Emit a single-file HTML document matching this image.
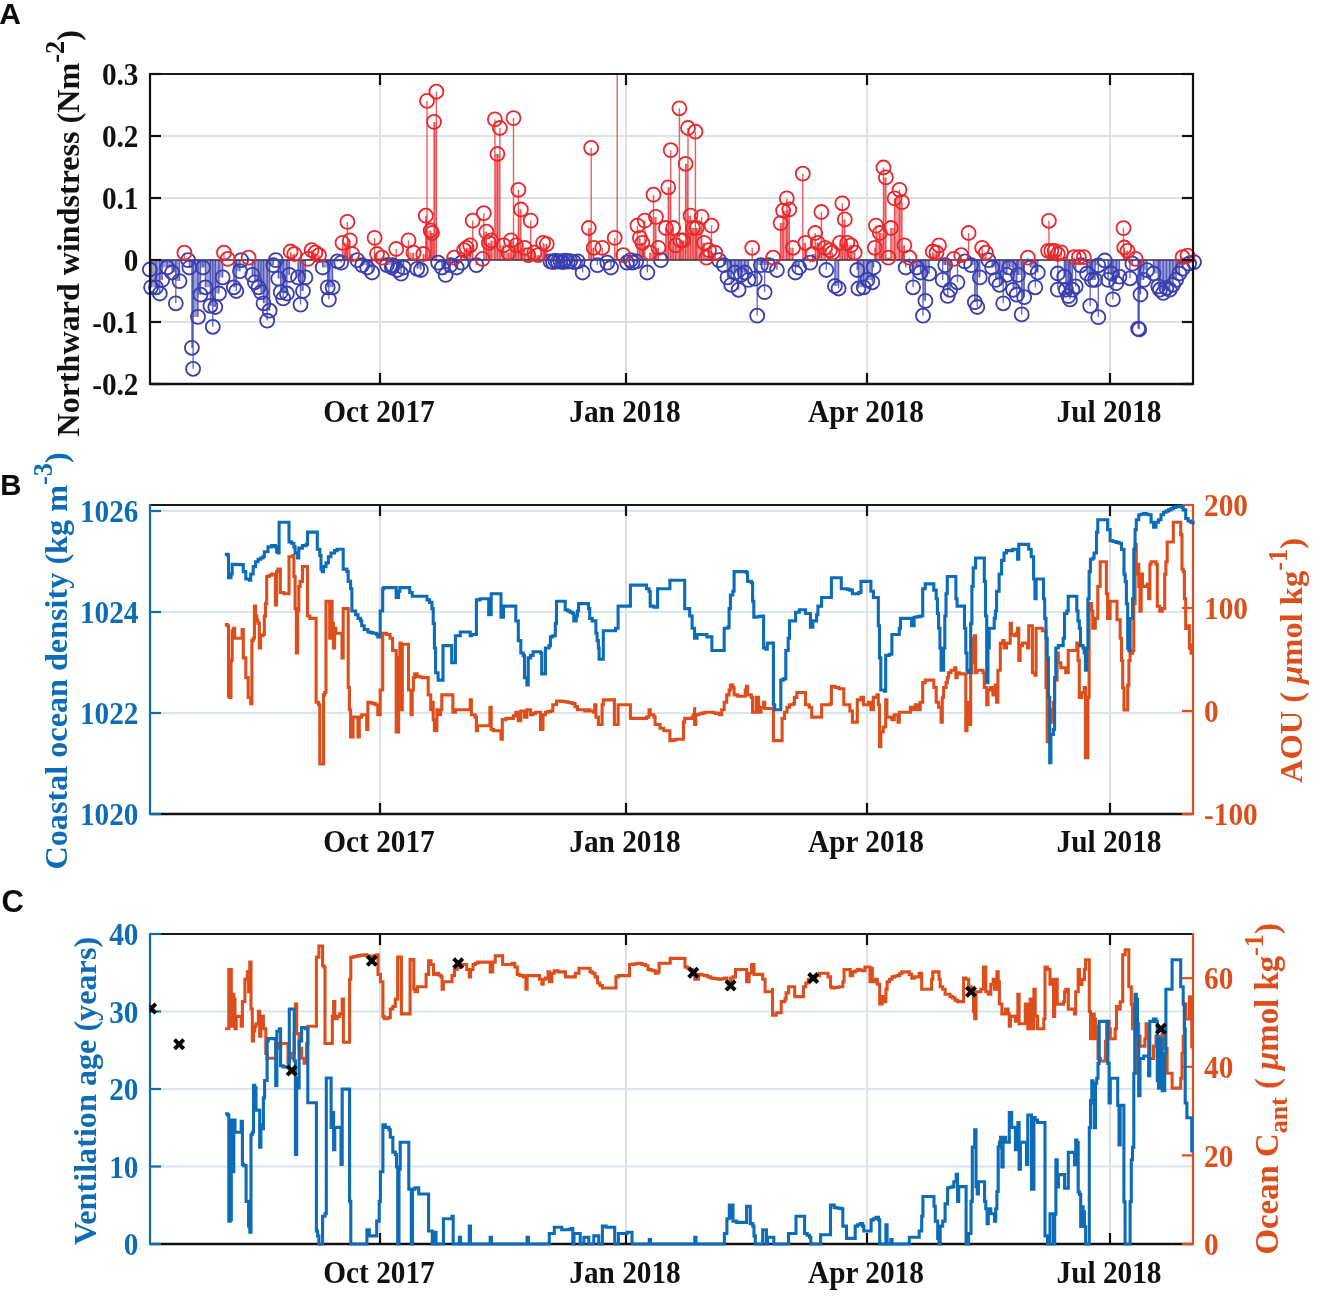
<!DOCTYPE html>
<html><head><meta charset="utf-8"><style>
html,body{margin:0;padding:0;background:#fff;}
svg{display:block;filter:blur(0.4px);}
</style></head><body>
<svg width="1330" height="1296" viewBox="0 0 1330 1296">
<defs><clipPath id="clipC"><rect x="149.5" y="934" width="1044" height="310"/></clipPath></defs>
<rect width="1330" height="1296" fill="#fff"/>
<line x1="380" y1="74" x2="380" y2="384" stroke="#dcdde0" stroke-width="1.8"/>
<line x1="626" y1="74" x2="626" y2="384" stroke="#dcdde0" stroke-width="1.8"/>
<line x1="867" y1="74" x2="867" y2="384" stroke="#dcdde0" stroke-width="1.8"/>
<line x1="1110" y1="74" x2="1110" y2="384" stroke="#dcdde0" stroke-width="1.8"/>
<line x1="150" y1="136.0" x2="1193" y2="136.0" stroke="#dfe0e3" stroke-width="1.8"/>
<line x1="150" y1="198.0" x2="1193" y2="198.0" stroke="#dfe0e3" stroke-width="1.8"/>
<line x1="150" y1="260" x2="1193" y2="260" stroke="#dfe0e3" stroke-width="1.8"/>
<line x1="150" y1="322.0" x2="1193" y2="322.0" stroke="#dfe0e3" stroke-width="1.8"/>
<path d="M149.9 260H151.1V269.5H149.9Z M151.1 260H156.0V287.3H151.1Z M156.0 260H159.8V287.3H156.0Z M159.8 260H162.2V279.9H159.8Z M162.2 260H167.2V267.5H162.2Z M167.2 260H172.1V267.5H167.2Z M172.1 260H175.8V272.5H172.1Z M175.8 260H179.5V281.1H175.8Z M189.4 260H191.9V267.5H189.4Z M191.9 260H193.1V347.8H191.9Z M193.1 260H198.0V316.9H193.1Z M198.0 260H200.5V294.7H198.0Z M200.5 260H203.0V267.5H200.5Z M203.0 260H205.4V267.5H203.0Z M205.4 260H210.4V287.3H205.4Z M210.4 260H212.8V305.8H210.4Z M212.8 260H215.3V307.0H212.8Z M215.3 260H219.0V293.5H215.3Z M219.0 260H222.7V277.4H219.0Z M233.8 260H236.3V287.3H233.8Z M236.3 260H240.0V271.2H236.3Z M252.3 260H254.8V274.9H252.3Z M254.8 260H258.5V282.3H254.8Z M258.5 260H261.0V287.3H258.5Z M261.0 260H263.5V292.2H261.0Z M263.5 260H267.2V303.3H263.5Z M267.2 260H269.6V310.7H267.2Z M269.6 260H273.3V265.1H269.6Z M278.3 260H280.7V278.6H278.3Z M280.7 260H283.2V292.2H280.7Z M283.2 260H286.9V293.5H283.2Z M286.9 260H289.4V274.9H286.9Z M298.0 260H300.5V277.4H298.0Z M300.5 260H303.0V291.0H300.5Z M303.0 260H305.4V277.4H303.0Z M322.7 260H327.7V267.5H322.7Z M327.7 260H328.9V287.3H327.7Z M328.9 260H332.6V287.3H328.9Z M332.6 260H337.5V261.4H332.6Z M337.5 260H341.2V261.4H337.5Z M362.2 260H367.2V265.1H362.2Z M367.2 260H372.1V267.5H367.2Z M386.9 260H391.9V265.1H386.9Z M391.9 260H392.5V265.1H391.9Z M397.4 260H401.1V270.0H397.4Z M401.1 260H403.6V267.5H401.1Z M417.2 260H420.9V268.8H417.2Z M438.1 260H441.9V262.6H438.1Z M441.9 260H445.6V267.5H441.9Z M445.6 260H450.5V265.1H445.6Z M456.7 260H461.6V262.6H456.7Z M550.5 260H553.0V261.4H550.5Z M553.0 260H555.4V260.6H553.0Z M555.4 260H557.9V260.6H555.4Z M557.9 260H560.4V261.1H557.9Z M560.4 260H562.8V261.1H560.4Z M562.8 260H565.3V260.6H562.8Z M565.3 260H567.8V260.6H565.3Z M567.8 260H570.2V261.1H567.8Z M570.2 260H574.0V261.1H570.2Z M574.0 260H577.7V261.4H574.0Z M577.7 260H582.6V261.4H577.7Z M607.3 260H611.0V262.6H607.3Z M632.5 260H636.2V261.4H632.5Z M723.8 260H727.5V265.1H723.8Z M727.5 260H731.2V277.4H727.5Z M731.2 260H734.9V272.5H731.2Z M734.9 260H738.6V272.5H734.9Z M738.6 260H741.1V274.9H738.6Z M741.1 260H744.8V272.5H741.1Z M744.8 260H748.5V272.5H744.8Z M754.7 260H757.2V278.6H754.7Z M757.2 260H760.9V265.1H757.2Z M760.9 260H764.6V265.1H760.9Z M764.6 260H768.3V265.1H764.6Z M795.4 260H799.1V267.5H795.4Z M834.9 260H838.6V286.0H834.9Z M857.2 260H858.4V270.0H857.2Z M858.4 260H863.7V287.3H858.4Z M863.7 260H867.4V279.9H863.7Z M867.4 260H872.3V279.9H867.4Z M872.3 260H873.6V267.5H872.3Z M913.1 260H916.8V267.5H913.1Z M916.8 260H920.5V267.5H916.8Z M920.5 260H923.0V272.5H920.5Z M923.0 260H925.4V300.9H923.0Z M925.4 260H929.1V273.7H925.4Z M942.7 260H945.2V265.1H942.7Z M945.2 260H947.7V265.1H945.2Z M947.7 260H950.1V289.8H947.7Z M971.1 260H974.8V265.1H971.1Z M974.8 260H977.3V302.1H974.8Z M977.3 260H979.8V277.4H977.3Z M992.1 260H995.8V267.5H992.1Z M995.8 260H999.5V279.9H995.8Z M999.5 260H1003.2V284.8H999.5Z M1003.2 260H1006.9V274.9H1003.2Z M1006.9 260H1009.4V267.5H1006.9Z M1009.4 260H1013.1V267.5H1009.4Z M1013.1 260H1016.8V289.8H1013.1Z M1016.8 260H1018.0V274.9H1016.8Z M1018.0 260H1021.7V274.9H1018.0Z M1021.7 260H1024.2V297.2H1021.7Z M1030.4 260H1035.3V267.5H1030.4Z M1035.3 260H1037.8V272.5H1035.3Z M1064.3 260H1065.9V276.7H1064.3Z M1065.9 260H1068.4V289.7H1065.9Z M1068.4 260H1070.0V296.1H1068.4Z M1070.0 260H1072.4V289.7H1070.0Z M1087.0 260H1090.2V273.5H1087.0Z M1090.2 260H1091.9V279.9H1090.2Z M1091.9 260H1095.1V279.9H1091.9Z M1095.1 260H1098.3V265.3H1095.1Z M1108.1 260H1111.3V273.5H1108.1Z M1111.3 260H1112.9V273.5H1111.3Z M1112.9 260H1116.2V283.2H1112.9Z M1116.2 260H1119.4V276.7H1116.2Z M1130.0 260H1132.4V263.7H1130.0Z M1138.1 260H1139.2V328.6H1138.1Z M1139.2 260H1140.5V294.5H1139.2Z M1140.5 260H1143.7V279.9H1140.5Z M1143.7 260H1147.0V270.2H1143.7Z M1153.5 260H1158.3V273.5H1153.5Z M1158.3 260H1159.9V286.4H1158.3Z M1159.9 260H1163.2V289.7H1159.9Z M1163.2 260H1166.4V288.0H1163.2Z M1166.4 260H1169.7V288.0H1166.4Z M1169.7 260H1172.9V284.8H1169.7Z M1172.9 260H1176.1V279.9H1172.9Z M1176.1 260H1179.4V273.5H1176.1Z M1189.1 260H1194.0V262.1H1189.1Z" fill="#3a3eaf" opacity="0.5"/><path d="M224.0 260H227.7V258.9H224.0Z M290.6 260H294.3V254.0H290.6Z M307.9 260H311.6V258.9H307.9Z M311.6 260H315.3V252.7H311.6Z M315.3 260H319.0V255.2H315.3Z M342.5 260H347.4V242.8H342.5Z M347.4 260H349.9V240.4H347.4Z M349.9 260H352.3V254.0H349.9Z M374.6 260H377.0V254.0H374.6Z M377.0 260H382.0V257.7H377.0Z M408.5 260H413.5V252.7H408.5Z M423.3 260H425.8V254.0H423.3Z M425.8 260H427.0V215.7H425.8Z M427.0 260H430.7V230.5H427.0Z M430.7 260H432.0V233.0H430.7Z M432.0 260H434.0V233.0H432.0Z M434.0 260H436.4V121.9H434.0Z M464.1 260H466.5V250.2H464.1Z M466.5 260H470.2V247.8H466.5Z M470.2 260H472.7V245.3H470.2Z M482.6 260H483.8V258.9H482.6Z M483.8 260H486.3V231.7H483.8Z M486.3 260H488.8V242.8H486.3Z M488.8 260H491.2V242.8H488.8Z M491.2 260H494.9V240.4H491.2Z M494.9 260H497.4V154.0H494.9Z M497.4 260H499.9V154.0H497.4Z M499.9 260H503.6V245.3H499.9Z M503.6 260H508.5V252.7H503.6Z M508.5 260H511.0V252.7H508.5Z M511.0 260H513.5V240.4H511.0Z M513.5 260H515.9V245.3H513.5Z M515.9 260H518.4V245.3H515.9Z M518.4 260H520.9V209.5H518.4Z M520.9 260H524.6V247.8H520.9Z M524.6 260H528.3V255.2H524.6Z M528.3 260H530.7V255.2H528.3Z M530.7 260H534.4V252.7H530.7Z M534.4 260H538.1V255.2H534.4Z M538.1 260H543.1V255.2H538.1Z M543.1 260H546.8V244.1H543.1Z M588.8 260H591.2V228.0H588.8Z M591.2 260H593.7V247.8H591.2Z M637.4 260H639.9V237.9H637.4Z M639.9 260H642.3V242.8H639.9Z M642.3 260H644.8V242.8H642.3Z M649.8 260H653.5V252.7H649.8Z M653.5 260H655.9V216.9H653.5Z M655.9 260H658.4V247.8H655.9Z M665.8 260H668.3V228.0H665.8Z M668.3 260H670.7V187.3H668.3Z M670.7 260H673.2V228.0H670.7Z M673.2 260H675.7V245.3H673.2Z M675.7 260H679.4V245.3H675.7Z M679.4 260H680.6V240.4H679.4Z M680.6 260H683.1V240.4H680.6Z M683.1 260H685.6V240.4H683.1Z M685.6 260H688.0V163.8H685.6Z M688.0 260H690.5V215.7H688.0Z M690.5 260H693.0V228.0H690.5Z M693.0 260H695.4V228.0H693.0Z M695.4 260H696.7V228.0H695.4Z M696.7 260H701.6V228.0H696.7Z M701.6 260H704.1V242.8H701.6Z M704.1 260H706.5V257.7H704.1Z M706.5 260H709.0V257.7H706.5Z M709.0 260H711.5V250.2H709.0Z M711.5 260H715.2V252.7H711.5Z M780.6 260H783.1V223.1H780.6Z M783.1 260H786.8V210.7H783.1Z M786.8 260H789.3V209.5H786.8Z M789.3 260H793.0V247.8H789.3Z M802.8 260H805.3V242.8H802.8Z M812.7 260H815.2V254.0H812.7Z M815.2 260H817.7V242.8H815.2Z M817.7 260H821.4V242.8H817.7Z M821.4 260H825.1V247.8H821.4Z M830.0 260H832.5V252.7H830.0Z M839.9 260H842.3V242.8H839.9Z M842.3 260H844.8V219.4H842.3Z M844.8 260H847.3V242.8H844.8Z M847.3 260H851.0V245.3H847.3Z M851.0 260H854.7V252.7H851.0Z M874.8 260H876.0V247.8H874.8Z M876.0 260H879.8V233.0H876.0Z M879.8 260H883.5V233.0H879.8Z M883.5 260H885.9V177.4H883.5Z M885.9 260H888.4V257.7H885.9Z M888.4 260H890.9V257.7H888.4Z M890.9 260H894.6V228.0H890.9Z M894.6 260H899.5V198.4H894.6Z M899.5 260H902.0V202.1H899.5Z M902.0 260H904.4V245.3H902.0Z M932.8 260H936.5V252.7H932.8Z M936.5 260H939.0V252.7H936.5Z M982.2 260H985.9V252.7H982.2Z M1048.1 260H1048.9V250.8H1048.1Z M1048.9 260H1051.3V250.8H1048.9Z M1051.3 260H1054.6V250.8H1051.3Z M1054.6 260H1057.8V254.0H1054.6Z M1123.5 260H1124.3V247.5H1123.5Z M1124.3 260H1127.5V250.8H1124.3Z" fill="#e8282c" opacity="0.5"/><path d="M149.9 260V269.5 M151.1 260V287.3 M156.0 260V287.3 M159.8 260V293.5 M162.2 260V279.9 M167.2 260V267.5 M172.1 260V272.5 M175.8 260V303.3 M179.5 260V281.1 M188.1 260V260.1 M189.4 260V267.5 M191.9 260V347.8 M193.1 260V368.8 M198.0 260V316.9 M200.5 260V294.7 M203.0 260V267.5 M205.4 260V287.3 M210.4 260V305.8 M212.8 260V326.8 M215.3 260V307.0 M219.0 260V293.5 M222.7 260V277.4 M233.8 260V287.3 M236.3 260V291.0 M240.0 260V271.2 M241.2 260V260.1 M252.3 260V274.9 M254.8 260V282.3 M258.5 260V287.3 M261.0 260V292.2 M263.5 260V303.3 M267.2 260V320.6 M269.6 260V310.7 M273.3 260V265.1 M275.8 260V260.1 M278.3 260V278.6 M280.7 260V292.2 M283.2 260V298.4 M286.9 260V293.5 M289.4 260V274.9 M298.0 260V277.4 M300.5 260V304.6 M303.0 260V291.0 M305.4 260V277.4 M322.7 260V267.5 M327.7 260V287.3 M328.9 260V299.6 M332.6 260V287.3 M337.5 260V261.4 M341.2 260V262.6 M357.3 260V260.1 M362.2 260V265.1 M367.2 260V267.5 M372.1 260V272.5 M386.9 260V265.1 M391.9 260V267.5 M392.5 260V265.1 M397.4 260V270.0 M401.1 260V273.7 M403.6 260V267.5 M417.2 260V268.8 M420.9 260V270.0 M438.1 260V262.6 M441.9 260V267.5 M445.6 260V274.9 M450.5 260V265.1 M456.7 260V267.5 M461.6 260V262.6 M476.4 260V265.1 M550.5 260V261.4 M553.0 260V262.1 M555.4 260V260.6 M557.9 260V261.6 M560.4 260V261.1 M562.8 260V262.1 M565.3 260V260.6 M567.8 260V261.6 M570.2 260V261.1 M574.0 260V262.1 M577.7 260V261.4 M582.6 260V272.5 M597.4 260V265.1 M607.3 260V262.6 M611.0 260V267.5 M627.0 260V262.6 M630.7 260V260.1 M632.5 260V262.6 M636.2 260V261.4 M647.3 260V272.5 M660.9 260V260.1 M718.9 260V260.1 M723.8 260V265.1 M727.5 260V277.4 M731.2 260V284.8 M734.9 260V272.5 M738.6 260V289.8 M741.1 260V274.9 M744.8 260V272.5 M748.5 260V279.9 M754.7 260V278.6 M757.2 260V315.7 M760.9 260V265.1 M764.6 260V292.2 M768.3 260V265.1 M776.9 260V270.0 M795.4 260V272.5 M799.1 260V267.5 M810.2 260V262.6 M826.3 260V270.0 M834.9 260V286.0 M838.6 260V288.5 M857.2 260V270.0 M858.4 260V288.5 M863.7 260V287.3 M867.4 260V279.9 M872.3 260V282.3 M873.6 260V267.5 M905.7 260V267.5 M913.1 260V287.3 M916.8 260V267.5 M920.5 260V272.5 M923.0 260V315.7 M925.4 260V300.9 M929.1 260V273.7 M942.7 260V279.9 M945.2 260V265.1 M947.7 260V295.9 M950.1 260V289.8 M957.5 260V282.3 M964.9 260V261.4 M971.1 260V265.1 M974.8 260V302.1 M977.3 260V307.0 M979.8 260V277.4 M988.4 260V260.1 M992.1 260V267.5 M995.8 260V279.9 M999.5 260V284.8 M1003.2 260V303.3 M1006.9 260V274.9 M1009.4 260V267.5 M1013.1 260V289.8 M1016.8 260V294.7 M1018.0 260V274.9 M1021.7 260V314.4 M1024.2 260V297.2 M1030.4 260V267.5 M1035.3 260V287.3 M1037.8 260V272.5 M1057.8 260V273.5 M1057.8 260V289.7 M1064.3 260V276.7 M1065.9 260V289.7 M1068.4 260V296.1 M1070.0 260V299.4 M1072.4 260V289.7 M1075.7 260V286.4 M1080.5 260V265.3 M1087.0 260V273.5 M1090.2 260V305.9 M1091.9 260V279.9 M1095.1 260V279.9 M1098.3 260V265.3 M1098.3 260V317.2 M1104.8 260V260.5 M1108.1 260V279.9 M1111.3 260V273.5 M1112.9 260V299.4 M1116.2 260V283.2 M1119.4 260V276.7 M1130.0 260V278.3 M1132.4 260V263.7 M1138.1 260V328.6 M1139.2 260V329.4 M1140.5 260V294.5 M1143.7 260V279.9 M1147.0 260V270.2 M1153.5 260V273.5 M1158.3 260V286.4 M1159.9 260V289.7 M1163.2 260V292.9 M1166.4 260V288.0 M1169.7 260V289.7 M1172.9 260V284.8 M1176.1 260V279.9 M1179.4 260V273.5 M1182.6 260V268.6 M1189.1 260V263.7 M1194.0 260V262.1" stroke="#3a3eaf" stroke-width="1.4" fill="none" opacity="0.75"/><path d="M184.4 260V252.7 M224.0 260V252.7 M227.7 260V258.9 M248.6 260V257.7 M290.6 260V251.5 M294.3 260V254.0 M307.9 260V258.9 M311.6 260V250.2 M315.3 260V252.7 M319.0 260V255.2 M342.5 260V242.8 M347.4 260V221.9 M349.9 260V240.4 M352.3 260V254.0 M374.6 260V237.9 M377.0 260V254.0 M382.0 260V257.7 M396.2 260V249.0 M408.5 260V240.4 M413.5 260V252.7 M423.3 260V254.0 M425.8 260V215.7 M427.0 260V100.9 M430.7 260V230.5 M432.0 260V233.0 M434.0 260V121.9 M436.4 260V91.7 M454.2 260V257.7 M464.1 260V250.2 M466.5 260V247.8 M470.2 260V245.3 M472.7 260V220.6 M482.6 260V258.9 M483.8 260V213.2 M486.3 260V231.7 M488.8 260V242.8 M491.2 260V240.4 M494.9 260V119.4 M497.4 260V154.0 M499.9 260V128.0 M503.6 260V245.3 M508.5 260V252.7 M511.0 260V240.4 M513.5 260V118.1 M515.9 260V245.3 M518.4 260V189.8 M520.9 260V209.5 M524.6 260V247.8 M528.3 260V255.2 M530.7 260V220.6 M534.4 260V252.7 M538.1 260V255.2 M543.1 260V242.8 M546.8 260V244.1 M588.8 260V228.0 M591.2 260V147.8 M593.7 260V247.8 M602.3 260V247.8 M614.7 260V237.9 M623.3 260V255.2 M637.4 260V225.6 M639.9 260V237.9 M642.3 260V242.8 M644.8 260V220.6 M649.8 260V252.7 M653.5 260V194.7 M655.9 260V216.9 M658.4 260V247.8 M665.8 260V228.0 M668.3 260V187.3 M670.7 260V150.2 M673.2 260V228.0 M675.7 260V245.3 M679.4 260V108.3 M680.6 260V240.4 M683.1 260V240.4 M685.6 260V163.8 M688.0 260V128.0 M690.5 260V215.7 M693.0 260V228.0 M695.4 260V131.7 M696.7 260V228.0 M701.6 260V216.9 M704.1 260V242.8 M706.5 260V257.7 M709.0 260V250.2 M711.5 260V225.6 M715.2 260V252.7 M752.2 260V247.8 M773.2 260V257.7 M780.6 260V223.1 M783.1 260V210.7 M786.8 260V198.4 M789.3 260V209.5 M793.0 260V247.8 M802.8 260V173.7 M805.3 260V242.8 M812.7 260V254.0 M815.2 260V233.0 M817.7 260V242.8 M821.4 260V212.0 M825.1 260V247.8 M830.0 260V250.2 M832.5 260V252.7 M839.9 260V242.8 M842.3 260V203.3 M844.8 260V219.4 M847.3 260V242.8 M851.0 260V245.3 M854.7 260V252.7 M874.8 260V247.8 M876.0 260V225.6 M879.8 260V233.0 M883.5 260V167.5 M885.9 260V177.4 M888.4 260V257.7 M890.9 260V228.0 M894.6 260V198.4 M899.5 260V189.8 M902.0 260V202.1 M904.4 260V245.3 M909.4 260V257.7 M932.8 260V251.5 M936.5 260V252.7 M939.0 260V245.3 M953.8 260V258.9 M961.2 260V255.2 M968.6 260V233.0 M982.2 260V247.8 M985.9 260V252.7 M1027.9 260V257.7 M1048.1 260V250.8 M1048.9 260V220.8 M1051.3 260V250.8 M1054.6 260V250.8 M1057.8 260V254.0 M1061.1 260V252.4 M1074.0 260V257.2 M1078.9 260V257.2 M1083.8 260V257.2 M1123.5 260V228.1 M1124.3 260V247.5 M1127.5 260V250.8 M1135.6 260V258.9 M1182.6 260V257.2 M1187.5 260V255.6 M617.2 260V74" stroke="#e8282c" stroke-width="1.4" fill="none" opacity="0.75"/><line x1="150" y1="260" x2="1193" y2="260" stroke="#3a3050" stroke-width="1.6"/><g fill="none" stroke="#3a3eaf" stroke-width="1.8"><circle cx="149.9" cy="269.5" r="7"/><circle cx="151.1" cy="287.3" r="7"/><circle cx="156.0" cy="287.3" r="7"/><circle cx="159.8" cy="293.5" r="7"/><circle cx="162.2" cy="279.9" r="7"/><circle cx="167.2" cy="267.5" r="7"/><circle cx="172.1" cy="272.5" r="7"/><circle cx="175.8" cy="303.3" r="7"/><circle cx="179.5" cy="281.1" r="7"/><circle cx="188.1" cy="260.1" r="7"/><circle cx="189.4" cy="267.5" r="7"/><circle cx="191.9" cy="347.8" r="7"/><circle cx="193.1" cy="368.8" r="7"/><circle cx="198.0" cy="316.9" r="7"/><circle cx="200.5" cy="294.7" r="7"/><circle cx="203.0" cy="267.5" r="7"/><circle cx="205.4" cy="287.3" r="7"/><circle cx="210.4" cy="305.8" r="7"/><circle cx="212.8" cy="326.8" r="7"/><circle cx="215.3" cy="307.0" r="7"/><circle cx="219.0" cy="293.5" r="7"/><circle cx="222.7" cy="277.4" r="7"/><circle cx="233.8" cy="287.3" r="7"/><circle cx="236.3" cy="291.0" r="7"/><circle cx="240.0" cy="271.2" r="7"/><circle cx="241.2" cy="260.1" r="7"/><circle cx="252.3" cy="274.9" r="7"/><circle cx="254.8" cy="282.3" r="7"/><circle cx="258.5" cy="287.3" r="7"/><circle cx="261.0" cy="292.2" r="7"/><circle cx="263.5" cy="303.3" r="7"/><circle cx="267.2" cy="320.6" r="7"/><circle cx="269.6" cy="310.7" r="7"/><circle cx="273.3" cy="265.1" r="7"/><circle cx="275.8" cy="260.1" r="7"/><circle cx="278.3" cy="278.6" r="7"/><circle cx="280.7" cy="292.2" r="7"/><circle cx="283.2" cy="298.4" r="7"/><circle cx="286.9" cy="293.5" r="7"/><circle cx="289.4" cy="274.9" r="7"/><circle cx="298.0" cy="277.4" r="7"/><circle cx="300.5" cy="304.6" r="7"/><circle cx="303.0" cy="291.0" r="7"/><circle cx="305.4" cy="277.4" r="7"/><circle cx="322.7" cy="267.5" r="7"/><circle cx="327.7" cy="287.3" r="7"/><circle cx="328.9" cy="299.6" r="7"/><circle cx="332.6" cy="287.3" r="7"/><circle cx="337.5" cy="261.4" r="7"/><circle cx="341.2" cy="262.6" r="7"/><circle cx="357.3" cy="260.1" r="7"/><circle cx="362.2" cy="265.1" r="7"/><circle cx="367.2" cy="267.5" r="7"/><circle cx="372.1" cy="272.5" r="7"/><circle cx="386.9" cy="265.1" r="7"/><circle cx="391.9" cy="267.5" r="7"/><circle cx="392.5" cy="265.1" r="7"/><circle cx="397.4" cy="270.0" r="7"/><circle cx="401.1" cy="273.7" r="7"/><circle cx="403.6" cy="267.5" r="7"/><circle cx="417.2" cy="268.8" r="7"/><circle cx="420.9" cy="270.0" r="7"/><circle cx="438.1" cy="262.6" r="7"/><circle cx="441.9" cy="267.5" r="7"/><circle cx="445.6" cy="274.9" r="7"/><circle cx="450.5" cy="265.1" r="7"/><circle cx="456.7" cy="267.5" r="7"/><circle cx="461.6" cy="262.6" r="7"/><circle cx="476.4" cy="265.1" r="7"/><circle cx="550.5" cy="261.4" r="7"/><circle cx="553.0" cy="262.1" r="7"/><circle cx="555.4" cy="260.6" r="7"/><circle cx="557.9" cy="261.6" r="7"/><circle cx="560.4" cy="261.1" r="7"/><circle cx="562.8" cy="262.1" r="7"/><circle cx="565.3" cy="260.6" r="7"/><circle cx="567.8" cy="261.6" r="7"/><circle cx="570.2" cy="261.1" r="7"/><circle cx="574.0" cy="262.1" r="7"/><circle cx="577.7" cy="261.4" r="7"/><circle cx="582.6" cy="272.5" r="7"/><circle cx="597.4" cy="265.1" r="7"/><circle cx="607.3" cy="262.6" r="7"/><circle cx="611.0" cy="267.5" r="7"/><circle cx="627.0" cy="262.6" r="7"/><circle cx="630.7" cy="260.1" r="7"/><circle cx="632.5" cy="262.6" r="7"/><circle cx="636.2" cy="261.4" r="7"/><circle cx="647.3" cy="272.5" r="7"/><circle cx="660.9" cy="260.1" r="7"/><circle cx="718.9" cy="260.1" r="7"/><circle cx="723.8" cy="265.1" r="7"/><circle cx="727.5" cy="277.4" r="7"/><circle cx="731.2" cy="284.8" r="7"/><circle cx="734.9" cy="272.5" r="7"/><circle cx="738.6" cy="289.8" r="7"/><circle cx="741.1" cy="274.9" r="7"/><circle cx="744.8" cy="272.5" r="7"/><circle cx="748.5" cy="279.9" r="7"/><circle cx="754.7" cy="278.6" r="7"/><circle cx="757.2" cy="315.7" r="7"/><circle cx="760.9" cy="265.1" r="7"/><circle cx="764.6" cy="292.2" r="7"/><circle cx="768.3" cy="265.1" r="7"/><circle cx="776.9" cy="270.0" r="7"/><circle cx="795.4" cy="272.5" r="7"/><circle cx="799.1" cy="267.5" r="7"/><circle cx="810.2" cy="262.6" r="7"/><circle cx="826.3" cy="270.0" r="7"/><circle cx="834.9" cy="286.0" r="7"/><circle cx="838.6" cy="288.5" r="7"/><circle cx="857.2" cy="270.0" r="7"/><circle cx="858.4" cy="288.5" r="7"/><circle cx="863.7" cy="287.3" r="7"/><circle cx="867.4" cy="279.9" r="7"/><circle cx="872.3" cy="282.3" r="7"/><circle cx="873.6" cy="267.5" r="7"/><circle cx="905.7" cy="267.5" r="7"/><circle cx="913.1" cy="287.3" r="7"/><circle cx="916.8" cy="267.5" r="7"/><circle cx="920.5" cy="272.5" r="7"/><circle cx="923.0" cy="315.7" r="7"/><circle cx="925.4" cy="300.9" r="7"/><circle cx="929.1" cy="273.7" r="7"/><circle cx="942.7" cy="279.9" r="7"/><circle cx="945.2" cy="265.1" r="7"/><circle cx="947.7" cy="295.9" r="7"/><circle cx="950.1" cy="289.8" r="7"/><circle cx="957.5" cy="282.3" r="7"/><circle cx="964.9" cy="261.4" r="7"/><circle cx="971.1" cy="265.1" r="7"/><circle cx="974.8" cy="302.1" r="7"/><circle cx="977.3" cy="307.0" r="7"/><circle cx="979.8" cy="277.4" r="7"/><circle cx="988.4" cy="260.1" r="7"/><circle cx="992.1" cy="267.5" r="7"/><circle cx="995.8" cy="279.9" r="7"/><circle cx="999.5" cy="284.8" r="7"/><circle cx="1003.2" cy="303.3" r="7"/><circle cx="1006.9" cy="274.9" r="7"/><circle cx="1009.4" cy="267.5" r="7"/><circle cx="1013.1" cy="289.8" r="7"/><circle cx="1016.8" cy="294.7" r="7"/><circle cx="1018.0" cy="274.9" r="7"/><circle cx="1021.7" cy="314.4" r="7"/><circle cx="1024.2" cy="297.2" r="7"/><circle cx="1030.4" cy="267.5" r="7"/><circle cx="1035.3" cy="287.3" r="7"/><circle cx="1037.8" cy="272.5" r="7"/><circle cx="1057.8" cy="273.5" r="7"/><circle cx="1057.8" cy="289.7" r="7"/><circle cx="1064.3" cy="276.7" r="7"/><circle cx="1065.9" cy="289.7" r="7"/><circle cx="1068.4" cy="296.1" r="7"/><circle cx="1070.0" cy="299.4" r="7"/><circle cx="1072.4" cy="289.7" r="7"/><circle cx="1075.7" cy="286.4" r="7"/><circle cx="1080.5" cy="265.3" r="7"/><circle cx="1087.0" cy="273.5" r="7"/><circle cx="1090.2" cy="305.9" r="7"/><circle cx="1091.9" cy="279.9" r="7"/><circle cx="1095.1" cy="279.9" r="7"/><circle cx="1098.3" cy="265.3" r="7"/><circle cx="1098.3" cy="317.2" r="7"/><circle cx="1104.8" cy="260.5" r="7"/><circle cx="1108.1" cy="279.9" r="7"/><circle cx="1111.3" cy="273.5" r="7"/><circle cx="1112.9" cy="299.4" r="7"/><circle cx="1116.2" cy="283.2" r="7"/><circle cx="1119.4" cy="276.7" r="7"/><circle cx="1130.0" cy="278.3" r="7"/><circle cx="1132.4" cy="263.7" r="7"/><circle cx="1138.1" cy="328.6" r="7"/><circle cx="1139.2" cy="329.4" r="7"/><circle cx="1140.5" cy="294.5" r="7"/><circle cx="1143.7" cy="279.9" r="7"/><circle cx="1147.0" cy="270.2" r="7"/><circle cx="1153.5" cy="273.5" r="7"/><circle cx="1158.3" cy="286.4" r="7"/><circle cx="1159.9" cy="289.7" r="7"/><circle cx="1163.2" cy="292.9" r="7"/><circle cx="1166.4" cy="288.0" r="7"/><circle cx="1169.7" cy="289.7" r="7"/><circle cx="1172.9" cy="284.8" r="7"/><circle cx="1176.1" cy="279.9" r="7"/><circle cx="1179.4" cy="273.5" r="7"/><circle cx="1182.6" cy="268.6" r="7"/><circle cx="1189.1" cy="263.7" r="7"/><circle cx="1194.0" cy="262.1" r="7"/></g><g fill="none" stroke="#e8282c" stroke-width="1.8"><circle cx="184.4" cy="252.7" r="7"/><circle cx="224.0" cy="252.7" r="7"/><circle cx="227.7" cy="258.9" r="7"/><circle cx="248.6" cy="257.7" r="7"/><circle cx="290.6" cy="251.5" r="7"/><circle cx="294.3" cy="254.0" r="7"/><circle cx="307.9" cy="258.9" r="7"/><circle cx="311.6" cy="250.2" r="7"/><circle cx="315.3" cy="252.7" r="7"/><circle cx="319.0" cy="255.2" r="7"/><circle cx="342.5" cy="242.8" r="7"/><circle cx="347.4" cy="221.9" r="7"/><circle cx="349.9" cy="240.4" r="7"/><circle cx="352.3" cy="254.0" r="7"/><circle cx="374.6" cy="237.9" r="7"/><circle cx="377.0" cy="254.0" r="7"/><circle cx="382.0" cy="257.7" r="7"/><circle cx="396.2" cy="249.0" r="7"/><circle cx="408.5" cy="240.4" r="7"/><circle cx="413.5" cy="252.7" r="7"/><circle cx="423.3" cy="254.0" r="7"/><circle cx="425.8" cy="215.7" r="7"/><circle cx="427.0" cy="100.9" r="7"/><circle cx="430.7" cy="230.5" r="7"/><circle cx="432.0" cy="233.0" r="7"/><circle cx="434.0" cy="121.9" r="7"/><circle cx="436.4" cy="91.7" r="7"/><circle cx="454.2" cy="257.7" r="7"/><circle cx="464.1" cy="250.2" r="7"/><circle cx="466.5" cy="247.8" r="7"/><circle cx="470.2" cy="245.3" r="7"/><circle cx="472.7" cy="220.6" r="7"/><circle cx="482.6" cy="258.9" r="7"/><circle cx="483.8" cy="213.2" r="7"/><circle cx="486.3" cy="231.7" r="7"/><circle cx="488.8" cy="242.8" r="7"/><circle cx="491.2" cy="240.4" r="7"/><circle cx="494.9" cy="119.4" r="7"/><circle cx="497.4" cy="154.0" r="7"/><circle cx="499.9" cy="128.0" r="7"/><circle cx="503.6" cy="245.3" r="7"/><circle cx="508.5" cy="252.7" r="7"/><circle cx="511.0" cy="240.4" r="7"/><circle cx="513.5" cy="118.1" r="7"/><circle cx="515.9" cy="245.3" r="7"/><circle cx="518.4" cy="189.8" r="7"/><circle cx="520.9" cy="209.5" r="7"/><circle cx="524.6" cy="247.8" r="7"/><circle cx="528.3" cy="255.2" r="7"/><circle cx="530.7" cy="220.6" r="7"/><circle cx="534.4" cy="252.7" r="7"/><circle cx="538.1" cy="255.2" r="7"/><circle cx="543.1" cy="242.8" r="7"/><circle cx="546.8" cy="244.1" r="7"/><circle cx="588.8" cy="228.0" r="7"/><circle cx="591.2" cy="147.8" r="7"/><circle cx="593.7" cy="247.8" r="7"/><circle cx="602.3" cy="247.8" r="7"/><circle cx="614.7" cy="237.9" r="7"/><circle cx="623.3" cy="255.2" r="7"/><circle cx="637.4" cy="225.6" r="7"/><circle cx="639.9" cy="237.9" r="7"/><circle cx="642.3" cy="242.8" r="7"/><circle cx="644.8" cy="220.6" r="7"/><circle cx="649.8" cy="252.7" r="7"/><circle cx="653.5" cy="194.7" r="7"/><circle cx="655.9" cy="216.9" r="7"/><circle cx="658.4" cy="247.8" r="7"/><circle cx="665.8" cy="228.0" r="7"/><circle cx="668.3" cy="187.3" r="7"/><circle cx="670.7" cy="150.2" r="7"/><circle cx="673.2" cy="228.0" r="7"/><circle cx="675.7" cy="245.3" r="7"/><circle cx="679.4" cy="108.3" r="7"/><circle cx="680.6" cy="240.4" r="7"/><circle cx="683.1" cy="240.4" r="7"/><circle cx="685.6" cy="163.8" r="7"/><circle cx="688.0" cy="128.0" r="7"/><circle cx="690.5" cy="215.7" r="7"/><circle cx="693.0" cy="228.0" r="7"/><circle cx="695.4" cy="131.7" r="7"/><circle cx="696.7" cy="228.0" r="7"/><circle cx="701.6" cy="216.9" r="7"/><circle cx="704.1" cy="242.8" r="7"/><circle cx="706.5" cy="257.7" r="7"/><circle cx="709.0" cy="250.2" r="7"/><circle cx="711.5" cy="225.6" r="7"/><circle cx="715.2" cy="252.7" r="7"/><circle cx="752.2" cy="247.8" r="7"/><circle cx="773.2" cy="257.7" r="7"/><circle cx="780.6" cy="223.1" r="7"/><circle cx="783.1" cy="210.7" r="7"/><circle cx="786.8" cy="198.4" r="7"/><circle cx="789.3" cy="209.5" r="7"/><circle cx="793.0" cy="247.8" r="7"/><circle cx="802.8" cy="173.7" r="7"/><circle cx="805.3" cy="242.8" r="7"/><circle cx="812.7" cy="254.0" r="7"/><circle cx="815.2" cy="233.0" r="7"/><circle cx="817.7" cy="242.8" r="7"/><circle cx="821.4" cy="212.0" r="7"/><circle cx="825.1" cy="247.8" r="7"/><circle cx="830.0" cy="250.2" r="7"/><circle cx="832.5" cy="252.7" r="7"/><circle cx="839.9" cy="242.8" r="7"/><circle cx="842.3" cy="203.3" r="7"/><circle cx="844.8" cy="219.4" r="7"/><circle cx="847.3" cy="242.8" r="7"/><circle cx="851.0" cy="245.3" r="7"/><circle cx="854.7" cy="252.7" r="7"/><circle cx="874.8" cy="247.8" r="7"/><circle cx="876.0" cy="225.6" r="7"/><circle cx="879.8" cy="233.0" r="7"/><circle cx="883.5" cy="167.5" r="7"/><circle cx="885.9" cy="177.4" r="7"/><circle cx="888.4" cy="257.7" r="7"/><circle cx="890.9" cy="228.0" r="7"/><circle cx="894.6" cy="198.4" r="7"/><circle cx="899.5" cy="189.8" r="7"/><circle cx="902.0" cy="202.1" r="7"/><circle cx="904.4" cy="245.3" r="7"/><circle cx="909.4" cy="257.7" r="7"/><circle cx="932.8" cy="251.5" r="7"/><circle cx="936.5" cy="252.7" r="7"/><circle cx="939.0" cy="245.3" r="7"/><circle cx="953.8" cy="258.9" r="7"/><circle cx="961.2" cy="255.2" r="7"/><circle cx="968.6" cy="233.0" r="7"/><circle cx="982.2" cy="247.8" r="7"/><circle cx="985.9" cy="252.7" r="7"/><circle cx="1027.9" cy="257.7" r="7"/><circle cx="1048.1" cy="250.8" r="7"/><circle cx="1048.9" cy="220.8" r="7"/><circle cx="1051.3" cy="250.8" r="7"/><circle cx="1054.6" cy="250.8" r="7"/><circle cx="1057.8" cy="254.0" r="7"/><circle cx="1061.1" cy="252.4" r="7"/><circle cx="1074.0" cy="257.2" r="7"/><circle cx="1078.9" cy="257.2" r="7"/><circle cx="1083.8" cy="257.2" r="7"/><circle cx="1123.5" cy="228.1" r="7"/><circle cx="1124.3" cy="247.5" r="7"/><circle cx="1127.5" cy="250.8" r="7"/><circle cx="1135.6" cy="258.9" r="7"/><circle cx="1182.6" cy="257.2" r="7"/><circle cx="1187.5" cy="255.6" r="7"/></g>
<line x1="150" y1="74" x2="1193" y2="74" stroke="#1a1a1a" stroke-width="2.2"/>
<line x1="150" y1="384" x2="1193" y2="384" stroke="#111" stroke-width="2.4"/>
<line x1="150" y1="73" x2="150" y2="385" stroke="#111" stroke-width="2.2"/>
<line x1="1193" y1="73" x2="1193" y2="385" stroke="#111" stroke-width="2.2"/>
<line x1="380" y1="384" x2="380" y2="373" stroke="#111" stroke-width="2.2"/>
<line x1="380" y1="74" x2="380" y2="85" stroke="#111" stroke-width="2.2"/>
<text transform="translate(379,421.5) scale(1,1.08)" font-family="Liberation Serif" font-weight="bold" font-size="29.3" text-anchor="middle" fill="#111">Oct 2017</text>
<line x1="626" y1="384" x2="626" y2="373" stroke="#111" stroke-width="2.2"/>
<line x1="626" y1="74" x2="626" y2="85" stroke="#111" stroke-width="2.2"/>
<text transform="translate(625,421.5) scale(1,1.08)" font-family="Liberation Serif" font-weight="bold" font-size="29.3" text-anchor="middle" fill="#111">Jan 2018</text>
<line x1="867" y1="384" x2="867" y2="373" stroke="#111" stroke-width="2.2"/>
<line x1="867" y1="74" x2="867" y2="85" stroke="#111" stroke-width="2.2"/>
<text transform="translate(866,421.5) scale(1,1.08)" font-family="Liberation Serif" font-weight="bold" font-size="29.3" text-anchor="middle" fill="#111">Apr 2018</text>
<line x1="1110" y1="384" x2="1110" y2="373" stroke="#111" stroke-width="2.2"/>
<line x1="1110" y1="74" x2="1110" y2="85" stroke="#111" stroke-width="2.2"/>
<text transform="translate(1109,421.5) scale(1,1.08)" font-family="Liberation Serif" font-weight="bold" font-size="29.3" text-anchor="middle" fill="#111">Jul 2018</text>
<line x1="150" y1="74.0" x2="161" y2="74.0" stroke="#111" stroke-width="2.2"/>
<text transform="translate(138.5,85.2) scale(1,1.08)" font-family="Liberation Serif" font-weight="bold" font-size="29.3" text-anchor="end" fill="#111">0.3</text>
<line x1="150" y1="136.0" x2="161" y2="136.0" stroke="#111" stroke-width="2.2"/>
<text transform="translate(138.5,147.2) scale(1,1.08)" font-family="Liberation Serif" font-weight="bold" font-size="29.3" text-anchor="end" fill="#111">0.2</text>
<line x1="150" y1="198.0" x2="161" y2="198.0" stroke="#111" stroke-width="2.2"/>
<text transform="translate(138.5,209.2) scale(1,1.08)" font-family="Liberation Serif" font-weight="bold" font-size="29.3" text-anchor="end" fill="#111">0.1</text>
<line x1="150" y1="260" x2="161" y2="260" stroke="#111" stroke-width="2.2"/>
<text transform="translate(138.5,271.2) scale(1,1.08)" font-family="Liberation Serif" font-weight="bold" font-size="29.3" text-anchor="end" fill="#111">0</text>
<line x1="150" y1="322.0" x2="161" y2="322.0" stroke="#111" stroke-width="2.2"/>
<text transform="translate(138.5,333.2) scale(1,1.08)" font-family="Liberation Serif" font-weight="bold" font-size="29.3" text-anchor="end" fill="#111">-0.1</text>
<line x1="150" y1="384.0" x2="161" y2="384.0" stroke="#111" stroke-width="2.2"/>
<text transform="translate(138.5,395.2) scale(1,1.08)" font-family="Liberation Serif" font-weight="bold" font-size="29.3" text-anchor="end" fill="#111">-0.2</text>
<line x1="1193" y1="74.0" x2="1182" y2="74.0" stroke="#111" stroke-width="2.2"/>
<line x1="1193" y1="136.0" x2="1182" y2="136.0" stroke="#111" stroke-width="2.2"/>
<line x1="1193" y1="198.0" x2="1182" y2="198.0" stroke="#111" stroke-width="2.2"/>
<line x1="1193" y1="260" x2="1182" y2="260" stroke="#111" stroke-width="2.2"/>
<line x1="1193" y1="322.0" x2="1182" y2="322.0" stroke="#111" stroke-width="2.2"/>
<line x1="1193" y1="384.0" x2="1182" y2="384.0" stroke="#111" stroke-width="2.2"/>
<line x1="380" y1="505" x2="380" y2="814" stroke="#dcdde0" stroke-width="1.8"/>
<line x1="626" y1="505" x2="626" y2="814" stroke="#dcdde0" stroke-width="1.8"/>
<line x1="867" y1="505" x2="867" y2="814" stroke="#dcdde0" stroke-width="1.8"/>
<line x1="1110" y1="505" x2="1110" y2="814" stroke="#dcdde0" stroke-width="1.8"/>
<line x1="150" y1="511.0" x2="1193" y2="511.0" stroke="#d9e6f0" stroke-width="1.8"/>
<line x1="150" y1="612.0" x2="1193" y2="612.0" stroke="#d9e6f0" stroke-width="1.8"/>
<line x1="150" y1="713.0" x2="1193" y2="713.0" stroke="#d9e6f0" stroke-width="1.8"/>
<line x1="150" y1="505" x2="1193" y2="505" stroke="#1a1a1a" stroke-width="2.2"/>
<line x1="150" y1="814" x2="1193" y2="814" stroke="#111" stroke-width="2.4"/>
<line x1="150" y1="504" x2="150" y2="815" stroke="#0d6cb5" stroke-width="2.2"/>
<line x1="1193" y1="504" x2="1193" y2="815" stroke="#dc4f1c" stroke-width="2.2"/>
<line x1="380" y1="814" x2="380" y2="803" stroke="#111" stroke-width="2.2"/>
<line x1="380" y1="505" x2="380" y2="516" stroke="#111" stroke-width="2.2"/>
<text transform="translate(379,851.5) scale(1,1.08)" font-family="Liberation Serif" font-weight="bold" font-size="29.3" text-anchor="middle" fill="#111">Oct 2017</text>
<line x1="626" y1="814" x2="626" y2="803" stroke="#111" stroke-width="2.2"/>
<line x1="626" y1="505" x2="626" y2="516" stroke="#111" stroke-width="2.2"/>
<text transform="translate(625,851.5) scale(1,1.08)" font-family="Liberation Serif" font-weight="bold" font-size="29.3" text-anchor="middle" fill="#111">Jan 2018</text>
<line x1="867" y1="814" x2="867" y2="803" stroke="#111" stroke-width="2.2"/>
<line x1="867" y1="505" x2="867" y2="516" stroke="#111" stroke-width="2.2"/>
<text transform="translate(866,851.5) scale(1,1.08)" font-family="Liberation Serif" font-weight="bold" font-size="29.3" text-anchor="middle" fill="#111">Apr 2018</text>
<line x1="1110" y1="814" x2="1110" y2="803" stroke="#111" stroke-width="2.2"/>
<line x1="1110" y1="505" x2="1110" y2="516" stroke="#111" stroke-width="2.2"/>
<text transform="translate(1109,851.5) scale(1,1.08)" font-family="Liberation Serif" font-weight="bold" font-size="29.3" text-anchor="middle" fill="#111">Jul 2018</text>
<line x1="150" y1="511.0" x2="161" y2="511.0" stroke="#0d6cb5" stroke-width="2.2"/>
<text transform="translate(138.5,522.2) scale(1,1.08)" font-family="Liberation Serif" font-weight="bold" font-size="29.3" text-anchor="end" fill="#0d6cb5">1026</text>
<line x1="150" y1="612.0" x2="161" y2="612.0" stroke="#0d6cb5" stroke-width="2.2"/>
<text transform="translate(138.5,623.2) scale(1,1.08)" font-family="Liberation Serif" font-weight="bold" font-size="29.3" text-anchor="end" fill="#0d6cb5">1024</text>
<line x1="150" y1="713.0" x2="161" y2="713.0" stroke="#0d6cb5" stroke-width="2.2"/>
<text transform="translate(138.5,724.2) scale(1,1.08)" font-family="Liberation Serif" font-weight="bold" font-size="29.3" text-anchor="end" fill="#0d6cb5">1022</text>
<line x1="150" y1="814.0" x2="161" y2="814.0" stroke="#0d6cb5" stroke-width="2.2"/>
<text transform="translate(138.5,825.2) scale(1,1.08)" font-family="Liberation Serif" font-weight="bold" font-size="29.3" text-anchor="end" fill="#0d6cb5">1020</text>
<line x1="1193" y1="505.0" x2="1182" y2="505.0" stroke="#dc4f1c" stroke-width="2.2"/>
<text transform="translate(1204,516.2) scale(1,1.08)" font-family="Liberation Serif" font-weight="bold" font-size="29.3" text-anchor="start" fill="#dc4f1c">200</text>
<line x1="1193" y1="608.0" x2="1182" y2="608.0" stroke="#dc4f1c" stroke-width="2.2"/>
<text transform="translate(1204,619.2) scale(1,1.08)" font-family="Liberation Serif" font-weight="bold" font-size="29.3" text-anchor="start" fill="#dc4f1c">100</text>
<line x1="1193" y1="711.0" x2="1182" y2="711.0" stroke="#dc4f1c" stroke-width="2.2"/>
<text transform="translate(1204,722.2) scale(1,1.08)" font-family="Liberation Serif" font-weight="bold" font-size="29.3" text-anchor="start" fill="#dc4f1c">0</text>
<line x1="1193" y1="814.0" x2="1182" y2="814.0" stroke="#dc4f1c" stroke-width="2.2"/>
<text transform="translate(1204,825.2) scale(1,1.08)" font-family="Liberation Serif" font-weight="bold" font-size="29.3" text-anchor="start" fill="#dc4f1c">-100</text>
<polyline points="224.8,624.6 227.3,624.6 227.3,625.8 228.5,625.8 228.5,696.2 229.7,696.2 229.7,697.4 231.0,697.4 231.0,660.4 232.2,660.4 232.2,630.8 233.4,630.8 233.4,628.3 234.7,628.3 234.7,638.2 237.1,638.2 240.8,638.2 242.1,638.2 242.1,629.5 243.3,629.5 243.3,657.9 245.8,657.9 245.8,677.6 248.2,677.6 248.2,697.4 250.7,697.4 250.7,703.6 251.9,703.6 251.9,640.6 253.2,640.6 253.2,638.2 254.4,638.2 254.4,606.1 255.6,606.1 255.6,616.0 256.9,616.0 256.9,620.9 258.1,620.9 258.1,623.4 259.3,623.4 259.3,648.0 260.6,648.0 260.6,635.7 263.0,635.7 263.0,634.5 264.3,634.5 264.3,616.0 265.5,616.0 265.5,603.6 266.7,603.6 266.7,576.5 269.2,576.5 269.2,575.3 271.7,575.3 271.7,574.0 274.2,574.0 275.4,574.0 275.4,604.9 276.6,604.9 276.6,571.6 277.9,571.6 277.9,569.1 280.3,569.1 280.3,592.5 284.0,592.5 284.0,593.8 287.7,593.8 289.0,593.8 289.0,556.7 292.7,556.7 292.7,555.5 293.9,555.5 293.9,576.5 295.1,576.5 295.1,608.6 296.4,608.6 296.4,653.0 297.6,653.0 297.6,611.0 298.8,611.0 298.8,586.4 300.1,586.4 300.1,581.4 302.5,581.4 302.5,566.6 306.2,566.6 307.5,566.6 307.5,616.0 309.9,616.0 309.9,618.4 312.4,618.4 314.9,618.4 316.1,618.4 316.1,702.3 318.6,702.3 318.6,704.8 319.8,704.8 319.8,764.0 322.3,764.0 323.5,764.0 323.5,694.9 324.7,694.9 324.7,692.5 326.0,692.5 326.0,601.2 328.4,601.2 329.7,601.2 329.7,638.2 330.9,638.2 330.9,601.2 332.1,601.2 332.1,623.4 333.4,623.4 333.4,648.0 334.6,648.0 334.6,628.3 335.8,628.3 335.8,633.2 339.5,633.2 342.0,633.2 342.0,657.9 343.2,657.9 343.2,608.6 346.9,608.6 348.2,608.6 348.2,687.5 349.4,687.5 349.4,709.7 350.6,709.7 350.6,736.9 353.1,736.9 353.1,717.1 355.6,717.1 358.0,717.1 358.0,736.9 359.3,736.9 359.3,717.1 361.7,717.1 361.7,714.7 364.2,714.7 366.7,714.7 366.7,729.5 367.9,729.5 367.9,702.3 370.4,702.3 370.4,702.9 372.8,702.9 372.8,703.6 375.3,703.6 375.3,704.8 377.8,704.8 377.8,714.7 380.2,714.7 380.2,690.0 382.7,690.0 382.7,633.2 386.4,633.2 386.4,634.5 390.1,634.5 390.1,638.2 392.6,638.2 392.6,650.5 396.2,650.5 396.2,731.9 398.6,731.9 398.6,657.9 399.9,657.9 399.9,643.1 401.1,643.1 401.1,709.7 402.3,709.7 402.3,644.3 404.8,644.3 407.3,644.3 408.5,644.3 408.5,690.0 411.0,690.0 411.0,714.7 412.2,714.7 412.2,690.0 413.4,690.0 413.4,677.6 414.7,677.6 414.7,673.9 417.1,673.9 417.1,676.4 419.6,676.4 419.6,677.0 422.1,677.0 422.1,677.6 424.5,677.6 427.0,677.6 428.2,677.6 428.2,694.9 430.7,694.9 430.7,709.7 431.9,709.7 431.9,702.3 433.2,702.3 433.2,719.6 434.4,719.6 434.4,730.7 436.9,730.7 436.9,709.7 438.1,709.7 438.1,714.7 440.6,714.7 440.6,709.7 441.8,709.7 441.8,694.9 444.3,694.9 446.7,694.9 449.2,694.9 451.7,694.9 452.9,694.9 452.9,712.2 455.4,712.2 455.4,709.7 459.1,709.7 461.6,709.7 464.0,709.7 466.5,709.7 469.0,709.7 470.2,709.7 470.2,699.9 471.4,699.9 471.4,714.7 475.1,714.7 475.1,717.1 476.4,717.1 476.4,730.7 477.6,730.7 477.6,725.8 480.7,725.8 483.8,725.8 486.2,725.8 488.7,725.8 489.9,725.8 489.9,707.3 491.2,707.3 491.2,729.5 493.6,729.5 493.6,730.7 496.7,730.7 499.8,730.7 501.0,730.7 501.0,739.3 502.3,739.3 502.3,719.6 506.0,719.6 506.0,718.4 508.4,718.4 510.9,718.4 513.4,718.4 513.4,715.9 515.8,715.9 515.8,712.2 518.3,712.2 518.3,720.8 520.8,720.8 520.8,711.0 524.5,711.0 524.5,717.1 526.9,717.1 526.9,709.7 530.6,709.7 530.6,714.7 533.1,714.7 533.1,713.4 535.6,713.4 535.6,712.2 539.3,712.2 540.5,712.2 540.5,729.5 543.0,729.5 543.0,714.7 545.4,714.7 545.4,712.2 547.9,712.2 547.9,711.6 550.4,711.6 550.4,711.0 552.8,711.0 552.8,704.8 556.5,704.8 556.5,701.1 560.2,701.1 562.7,701.1 562.7,701.5 565.2,701.5 565.2,701.9 567.6,701.9 567.6,702.3 570.1,702.3 570.1,702.9 572.6,702.9 572.6,703.6 575.0,703.6 575.0,706.6 577.4,706.6 577.4,709.7 579.9,709.7 582.3,709.7 584.8,709.7 584.8,711.0 587.3,711.0 587.3,709.7 589.7,709.7 589.7,711.0 593.4,711.0 593.4,712.2 594.7,712.2 594.7,704.8 595.9,704.8 595.9,717.1 598.4,717.1 598.4,724.5 599.6,724.5 602.1,724.5 602.1,704.8 603.3,704.8 603.3,699.9 607.0,699.9 609.5,699.9 611.9,699.9 614.4,699.9 614.4,724.5 616.9,724.5 618.1,724.5 618.1,704.8 620.6,704.8 623.0,704.8 626.1,704.8 629.2,704.8 630.4,704.8 630.4,718.4 632.9,718.4 635.4,718.4 637.9,718.4 640.3,718.4 642.8,718.4 646.5,718.4 646.5,717.1 649.0,717.1 649.0,709.7 650.2,709.7 650.2,714.7 653.9,714.7 653.9,717.1 655.1,717.1 655.1,724.5 657.6,724.5 660.1,724.5 660.1,728.2 663.8,728.2 663.8,730.7 666.2,730.7 668.7,730.7 669.9,730.7 669.9,740.6 673.0,740.6 673.0,739.9 676.1,739.9 676.1,739.3 679.2,739.3 682.3,739.3 683.5,739.3 683.5,722.1 684.7,722.1 684.7,718.4 688.4,718.4 692.1,718.4 692.1,717.1 693.4,717.1 693.4,714.7 694.6,714.7 694.6,707.3 694.6,724.5 695.8,724.5 695.8,714.7 698.3,714.7 698.3,714.0 700.8,714.0 700.8,713.4 703.2,713.4 703.2,712.8 705.7,712.8 705.7,712.2 708.2,712.2 710.6,712.2 713.1,712.2 713.1,712.8 715.6,712.8 715.6,713.4 719.3,713.4 719.3,714.7 721.7,714.7 721.7,709.7 724.2,709.7 724.2,702.3 726.7,702.3 726.7,694.9 729.1,694.9 729.1,690.0 730.4,690.0 730.4,685.0 732.8,685.0 732.8,687.5 734.1,687.5 734.1,694.9 737.8,694.9 737.8,696.2 740.2,696.2 742.7,696.2 745.2,696.2 745.2,690.0 746.4,690.0 746.4,686.3 747.6,686.3 747.6,694.9 751.3,694.9 751.3,697.4 752.6,697.4 752.6,712.2 756.2,712.2 756.2,697.4 758.6,697.4 758.6,712.2 761.1,712.2 761.1,707.3 763.6,707.3 763.6,702.3 764.8,702.3 764.8,708.5 768.5,708.5 772.2,708.5 773.4,708.5 773.4,740.6 775.9,740.6 778.4,740.6 780.8,740.6 782.1,740.6 782.1,718.4 784.5,718.4 784.5,712.2 787.0,712.2 787.0,707.3 789.5,707.3 789.5,704.8 793.2,704.8 793.2,703.6 794.4,703.6 794.4,697.4 796.9,697.4 796.9,692.5 800.0,692.5 803.0,692.5 805.5,692.5 805.5,704.8 809.2,704.8 809.2,707.3 811.7,707.3 811.7,717.1 815.4,717.1 819.1,717.1 821.6,717.1 821.6,704.8 824.0,704.8 826.5,704.8 830.2,704.8 830.2,703.6 831.4,703.6 831.4,686.3 835.1,686.3 835.1,687.5 838.8,687.5 838.8,688.7 842.5,688.7 843.8,688.7 843.8,704.8 847.5,704.8 849.9,704.8 849.9,711.0 852.4,711.0 852.4,722.1 856.1,722.1 857.3,722.1 857.3,699.9 861.0,699.9 861.0,697.4 863.5,697.4 863.5,704.8 866.0,704.8 868.4,704.8 868.4,702.3 870.9,702.3 870.9,709.7 873.4,709.7 873.4,697.4 877.1,697.4 877.1,694.9 878.3,694.9 878.3,704.8 879.5,704.8 879.5,746.7 880.8,746.7 880.8,731.9 883.2,731.9 883.2,727.0 885.7,727.0 885.7,699.9 886.9,699.9 886.9,717.1 889.4,717.1 891.9,717.1 891.9,719.6 894.3,719.6 894.3,714.7 896.8,714.7 898.0,714.7 898.0,722.1 899.3,722.1 899.3,712.2 903.0,712.2 905.4,712.2 907.9,712.2 910.4,712.2 910.4,707.3 912.8,707.3 912.8,709.7 915.3,709.7 915.3,704.8 917.8,704.8 917.8,709.7 920.2,709.7 920.2,702.3 922.7,702.3 922.7,682.6 925.2,682.6 925.2,680.1 928.3,680.1 931.3,680.1 933.8,680.1 933.8,687.5 936.2,687.5 936.2,702.3 938.6,702.3 938.6,707.3 941.1,707.3 941.1,722.1 942.3,722.1 942.3,697.4 943.6,697.4 943.6,687.5 946.0,687.5 946.0,682.6 947.3,682.6 947.3,677.6 948.5,677.6 948.5,672.7 951.0,672.7 951.0,670.2 954.7,670.2 954.7,667.8 955.9,667.8 955.9,677.6 957.1,677.6 957.1,672.7 959.6,672.7 959.6,673.9 962.1,673.9 964.5,673.9 965.8,673.9 965.8,730.7 967.0,730.7 967.0,722.1 968.2,722.1 968.2,702.3 969.5,702.3 969.5,724.5 970.7,724.5 970.7,672.7 971.9,672.7 971.9,662.8 973.2,662.8 973.2,638.2 974.4,638.2 974.4,635.7 975.6,635.7 975.6,672.7 976.9,672.7 976.9,670.2 980.6,670.2 983.0,670.2 983.0,672.7 984.3,672.7 984.3,687.5 986.7,687.5 986.7,704.8 988.0,704.8 988.0,690.0 990.4,690.0 990.4,687.5 992.9,687.5 992.9,694.9 995.4,694.9 995.4,685.0 996.6,685.0 996.6,702.3 997.9,702.3 997.9,670.2 1000.3,670.2 1000.3,643.1 1002.8,643.1 1002.8,640.6 1004.0,640.6 1004.0,648.0 1006.5,648.0 1006.5,643.1 1010.2,643.1 1010.2,623.4 1011.4,623.4 1011.4,634.5 1013.9,634.5 1013.9,635.7 1016.4,635.7 1016.4,633.2 1017.6,633.2 1017.6,628.3 1018.8,628.3 1018.8,660.4 1020.1,660.4 1020.1,645.6 1022.5,645.6 1022.5,643.1 1025.0,643.1 1027.5,643.1 1027.5,648.0 1028.7,648.0 1028.7,625.8 1031.2,625.8 1032.4,625.8 1032.4,672.7 1034.9,672.7 1034.9,675.2 1036.1,675.2 1036.1,628.3 1038.6,628.3 1042.3,628.3 1042.3,630.8 1044.7,630.8 1046.0,630.8 1046.0,687.5 1047.2,687.5 1047.2,741.8 1048.4,741.8 1048.4,709.7 1050.9,709.7 1050.9,714.7 1052.1,714.7 1052.1,722.1 1053.4,722.1 1053.4,702.3 1054.6,702.3 1054.6,680.1 1057.1,680.1 1057.1,653.0 1058.3,653.0 1058.3,662.8 1060.8,662.8 1060.8,667.8 1064.5,667.8 1065.7,667.8 1065.7,672.7 1068.2,672.7 1068.2,650.5 1071.9,650.5 1075.6,650.5 1076.8,650.5 1076.8,643.1 1078.0,643.1 1078.0,660.4 1079.3,660.4 1079.3,697.4 1081.7,697.4 1081.7,692.5 1084.2,692.5 1084.2,687.5 1085.4,687.5 1085.4,757.8 1087.9,757.8 1087.9,697.4 1089.1,697.4 1089.1,603.6 1091.6,603.6 1091.6,611.0 1092.8,611.0 1092.8,628.3 1095.3,628.3 1095.3,618.4 1097.8,618.4 1097.8,586.4 1100.2,586.4 1100.2,561.7 1102.7,561.7 1105.2,561.7 1106.4,561.7 1106.4,593.8 1107.6,593.8 1107.6,618.4 1110.1,618.4 1110.1,601.2 1113.8,601.2 1117.0,601.2 1117.0,619.7 1120.2,619.7 1120.2,638.3 1121.5,638.3 1121.5,660.5 1122.7,660.5 1122.7,687.7 1124.0,687.7 1124.0,709.9 1126.4,709.9 1127.7,709.9 1127.7,685.2 1128.9,685.2 1128.9,660.5 1130.1,660.5 1130.1,653.1 1132.6,653.1 1132.6,650.6 1133.8,650.6 1133.8,603.7 1135.1,603.7 1135.1,544.4 1136.3,544.4 1136.3,574.1 1137.5,574.1 1137.5,564.2 1138.8,564.2 1138.8,586.4 1140.0,586.4 1140.0,611.1 1141.2,611.1 1141.2,574.1 1142.5,574.1 1142.5,586.4 1144.9,586.4 1147.4,586.4 1147.4,584.0 1148.6,584.0 1148.6,598.8 1149.9,598.8 1149.9,564.2 1151.1,564.2 1151.1,561.7 1153.6,561.7 1156.0,561.7 1156.0,564.2 1157.3,564.2 1157.3,606.2 1159.8,606.2 1159.8,611.1 1162.2,611.1 1162.2,608.6 1164.7,608.6 1164.7,574.1 1165.9,574.1 1165.9,561.7 1167.2,561.7 1167.2,542.0 1170.9,542.0 1173.3,542.0 1173.3,522.2 1175.8,522.2 1178.3,522.2 1180.7,522.2 1180.7,534.6 1182.0,534.6 1182.0,569.1 1183.2,569.1 1183.2,571.6 1184.4,571.6 1184.4,598.8 1185.7,598.8 1185.7,628.4 1188.1,628.4 1188.1,625.9 1189.4,625.9 1189.4,648.1 1191.1,648.1 1191.1,653.1 1191.9,653.1 1191.9,643.2" fill="none" stroke="#dc4f1c" stroke-width="3.1" stroke-linejoin="miter"/><polyline points="224.8,554.3 227.8,554.3 227.8,555.5 228.5,555.5 228.5,577.7 231.0,577.7 231.0,574.0 232.2,574.0 232.2,564.2 234.7,564.2 234.7,564.4 237.1,564.4 237.1,564.6 239.6,564.6 242.1,564.6 243.3,564.6 243.3,571.6 245.8,571.6 245.8,579.0 249.5,579.0 249.5,580.2 250.7,580.2 250.7,574.0 253.2,574.0 253.2,566.6 255.6,566.6 255.6,561.7 258.1,561.7 258.1,559.2 260.6,559.2 260.6,558.0 263.0,558.0 263.0,556.7 264.3,556.7 264.3,551.8 268.0,551.8 268.0,546.9 271.7,546.9 271.7,545.6 275.4,545.6 275.4,546.9 276.6,546.9 276.6,551.8 277.9,551.8 277.9,553.0 279.1,553.0 279.1,522.2 282.0,522.2 284.8,522.2 287.7,522.2 289.0,522.2 289.0,541.9 291.4,541.9 291.4,543.2 293.9,543.2 293.9,546.9 295.1,546.9 295.1,553.0 297.6,553.0 297.6,558.0 298.8,558.0 298.8,548.1 302.5,548.1 302.5,545.6 306.2,545.6 306.2,544.4 307.5,544.4 307.5,532.1 310.3,532.1 313.2,532.1 316.1,532.1 317.3,532.1 317.3,549.3 319.8,549.3 319.8,555.5 321.0,555.5 321.0,569.1 322.3,569.1 322.3,571.6 323.5,571.6 323.5,566.6 326.0,566.6 326.0,562.9 328.4,562.9 328.4,556.7 330.9,556.7 330.9,553.0 334.6,553.0 334.6,550.6 337.1,550.6 337.1,549.3 339.5,549.3 342.0,549.3 343.2,549.3 343.2,569.1 346.9,569.1 346.9,571.6 348.2,571.6 348.2,581.4 350.6,581.4 350.6,588.8 351.9,588.8 351.9,611.0 355.6,611.0 355.6,614.7 358.0,614.7 358.0,618.4 360.5,618.4 360.5,620.9 361.7,620.9 361.7,625.8 364.2,625.8 364.2,629.5 367.9,629.5 367.9,632.0 370.4,632.0 370.4,632.6 372.8,632.6 372.8,633.2 376.5,633.2 376.5,634.5 377.8,634.5 377.8,636.9 380.2,636.9 380.2,611.0 382.7,611.0 382.7,588.8 383.9,588.8 383.9,587.6 386.8,587.6 389.7,587.6 392.6,587.6 396.2,587.6 396.2,597.5 398.6,597.5 398.6,591.3 399.9,591.3 399.9,587.6 402.3,587.6 404.8,587.6 407.3,587.6 409.7,587.6 409.7,592.5 412.2,592.5 412.2,596.2 414.7,596.2 417.1,596.2 419.6,596.2 422.1,596.2 424.5,596.2 427.0,596.2 427.0,599.9 429.5,599.9 429.5,602.4 431.9,602.4 431.9,608.6 433.2,608.6 433.2,623.4 434.4,623.4 434.4,648.0 435.6,648.0 435.6,672.7 438.1,672.7 438.1,680.1 441.8,680.1 443.0,680.1 443.0,645.6 446.7,645.6 450.4,645.6 451.7,645.6 451.7,662.8 454.2,662.8 455.4,662.8 455.4,635.7 457.9,635.7 460.3,635.7 460.3,632.0 464.0,632.0 466.5,632.0 469.0,632.0 470.2,632.0 470.2,635.7 471.4,635.7 471.4,634.5 475.1,634.5 476.4,634.5 476.4,599.9 480.1,599.9 480.1,598.7 482.5,598.7 485.0,598.7 487.5,598.7 488.7,598.7 488.7,614.7 491.2,614.7 491.2,616.0 491.2,593.8 493.6,593.8 496.1,593.8 498.6,593.8 501.0,593.8 501.0,617.2 503.5,617.2 503.5,606.1 506.0,606.1 508.4,606.1 511.5,606.1 514.6,606.1 515.8,606.1 515.8,620.9 518.3,620.9 518.3,640.6 520.8,640.6 520.8,653.0 523.2,653.0 523.2,655.4 524.5,655.4 524.5,677.6 526.9,677.6 526.9,685.0 528.2,685.0 528.2,657.9 530.6,657.9 530.6,655.4 533.1,655.4 533.1,651.7 535.6,651.7 538.0,651.7 540.5,651.7 540.5,653.0 541.7,653.0 541.7,673.9 544.2,673.9 545.4,673.9 545.4,648.0 549.1,648.0 549.1,645.6 550.4,645.6 550.4,636.9 552.8,636.9 552.8,635.7 555.3,635.7 555.3,623.4 556.5,623.4 556.5,601.2 559.6,601.2 562.7,601.2 565.2,601.2 565.2,609.8 567.6,609.8 567.6,611.0 570.1,611.0 570.1,612.3 572.6,612.3 572.6,613.5 573.8,613.5 573.8,620.9 576.2,620.9 576.2,616.0 577.4,616.0 577.4,611.0 578.6,611.0 578.6,603.6 581.5,603.6 584.4,603.6 587.3,603.6 588.5,603.6 588.5,608.6 589.7,608.6 589.7,618.4 592.2,618.4 592.2,620.9 594.7,620.9 595.9,620.9 595.9,633.2 597.1,633.2 597.1,640.6 598.4,640.6 598.4,648.0 599.1,648.0 599.1,659.1 602.1,659.1 603.3,659.1 603.3,630.8 607.0,630.8 609.5,630.8 611.9,630.8 614.4,630.8 615.6,630.8 615.6,628.3 618.1,628.3 618.1,606.1 620.6,606.1 623.0,606.1 626.1,606.1 629.2,606.1 630.4,606.1 630.4,585.1 633.5,585.1 636.6,585.1 639.5,585.1 642.4,585.1 645.3,585.1 646.5,585.1 646.5,588.8 649.0,588.8 649.0,591.3 650.2,591.3 650.2,606.1 653.9,606.1 653.9,607.3 656.4,607.3 657.6,607.3 657.6,588.8 660.7,588.8 663.8,588.8 666.2,588.8 668.7,588.8 669.9,588.8 669.9,580.2 673.0,580.2 676.1,580.2 678.6,580.2 681.0,580.2 683.5,580.2 684.7,580.2 684.7,608.6 688.4,608.6 689.7,608.6 689.7,616.0 692.1,616.0 692.1,628.3 694.6,628.3 694.6,638.2 697.1,638.2 697.1,634.5 700.2,634.5 703.2,634.5 706.9,634.5 706.9,636.9 710.6,636.9 711.9,636.9 711.9,650.5 715.6,650.5 718.0,650.5 720.5,650.5 723.0,650.5 724.2,650.5 724.2,628.3 727.9,628.3 727.9,627.1 729.1,627.1 729.1,608.6 730.4,608.6 730.4,595.0 732.8,595.0 732.8,591.3 734.1,591.3 734.1,571.6 737.0,571.6 739.8,571.6 742.7,571.6 746.4,571.6 746.4,572.8 747.6,572.8 747.6,581.4 751.3,581.4 751.3,582.7 752.6,582.7 752.6,601.2 753.8,601.2 753.8,617.2 756.7,617.2 756.7,616.8 759.5,616.8 759.5,616.4 762.3,616.4 762.3,616.0 763.6,616.0 763.6,648.0 766.0,648.0 766.0,649.3 767.3,649.3 767.3,643.1 769.7,643.1 772.2,643.1 773.4,643.1 773.4,704.8 774.7,704.8 774.7,709.7 777.1,709.7 779.6,709.7 780.8,709.7 780.8,680.1 783.3,680.1 783.3,678.9 785.8,678.9 785.8,650.5 788.2,650.5 788.2,638.2 789.5,638.2 789.5,620.9 793.2,620.9 795.6,620.9 795.6,612.3 799.3,612.3 799.3,609.8 803.0,609.8 805.5,609.8 805.5,613.5 809.2,613.5 810.4,613.5 810.4,627.1 812.9,627.1 812.9,620.9 816.6,620.9 816.6,614.7 817.9,614.7 817.9,606.1 821.6,606.1 821.6,597.5 824.0,597.5 826.5,597.5 830.2,597.5 831.4,597.5 831.4,577.7 834.3,577.7 837.2,577.7 840.1,577.7 841.3,577.7 841.3,588.8 845.0,588.8 847.5,588.8 847.5,589.4 849.9,589.4 849.9,590.1 852.4,590.1 852.4,593.8 856.1,593.8 858.6,593.8 858.6,592.5 861.0,592.5 861.0,581.4 863.5,581.4 866.0,581.4 868.4,581.4 870.9,581.4 870.9,591.3 873.4,591.3 873.4,597.5 877.1,597.5 878.3,597.5 878.3,625.8 879.5,625.8 879.5,657.9 880.8,657.9 880.8,690.0 884.5,690.0 884.5,691.2 885.7,691.2 885.7,655.4 889.4,655.4 889.4,654.2 891.9,654.2 891.9,634.5 895.0,634.5 898.0,634.5 899.3,634.5 899.3,628.3 900.5,628.3 900.5,618.4 903.0,618.4 905.4,618.4 907.9,618.4 910.4,618.4 911.6,618.4 911.6,625.8 914.1,625.8 914.1,617.2 917.2,617.2 917.2,616.6 920.2,616.6 920.2,616.0 922.7,616.0 922.7,588.8 925.2,588.8 925.2,583.9 928.3,583.9 931.3,583.9 933.8,583.9 933.8,590.1 936.2,590.1 936.2,598.7 937.4,598.7 937.4,613.5 938.6,613.5 938.6,628.3 939.9,628.3 939.9,648.0 941.1,648.0 941.1,670.2 942.3,670.2 943.6,670.2 943.6,648.0 944.8,648.0 944.8,616.0 946.0,616.0 946.0,593.8 947.3,593.8 947.3,576.5 949.7,576.5 952.2,576.5 954.7,576.5 955.9,576.5 955.9,598.7 957.1,598.7 957.1,606.1 960.2,606.1 963.3,606.1 964.5,606.1 964.5,628.3 965.8,628.3 965.8,653.0 967.0,653.0 967.0,670.2 968.2,670.2 968.2,672.7 970.7,672.7 970.7,623.4 971.9,623.4 971.9,586.4 973.2,586.4 973.2,567.9 975.6,567.9 975.6,558.0 978.1,558.0 980.6,558.0 983.0,558.0 984.3,558.0 984.3,581.4 985.5,581.4 985.5,616.0 986.7,616.0 986.7,682.6 988.0,682.6 988.0,648.0 989.2,648.0 989.2,628.3 992.9,628.3 994.2,628.3 994.2,618.4 995.4,618.4 995.4,611.0 996.6,611.0 996.6,591.3 999.1,591.3 999.1,574.0 1001.6,574.0 1001.6,560.4 1004.0,560.4 1004.0,553.0 1006.5,553.0 1006.5,550.6 1010.2,550.6 1012.7,550.6 1012.7,549.3 1015.1,549.3 1017.6,549.3 1017.6,559.2 1018.8,559.2 1018.8,544.4 1021.7,544.4 1024.6,544.4 1027.5,544.4 1028.7,544.4 1028.7,549.3 1031.2,549.3 1031.2,556.7 1033.6,556.7 1033.6,579.0 1034.9,579.0 1034.9,598.7 1036.1,598.7 1036.1,579.0 1039.2,579.0 1042.3,579.0 1043.5,579.0 1043.5,598.7 1044.7,598.7 1044.7,618.4 1046.0,618.4 1046.0,638.2 1047.2,638.2 1047.2,657.9 1048.4,657.9 1048.4,697.4 1049.7,697.4 1049.7,762.8 1050.9,762.8 1050.9,734.4 1053.4,734.4 1053.4,729.5 1054.6,729.5 1054.6,677.6 1055.8,677.6 1055.8,648.0 1058.3,648.0 1058.3,645.6 1062.0,645.6 1063.2,645.6 1063.2,638.2 1064.5,638.2 1064.5,613.5 1066.9,613.5 1066.9,611.0 1068.2,611.0 1068.2,596.2 1071.3,596.2 1074.3,596.2 1076.8,596.2 1076.8,611.0 1078.0,611.0 1078.0,620.9 1079.3,620.9 1079.3,628.3 1080.5,628.3 1080.5,645.6 1083.0,645.6 1083.0,648.0 1084.2,648.0 1084.2,653.0 1085.4,653.0 1085.4,670.2 1086.7,670.2 1086.7,648.0 1087.9,648.0 1087.9,598.7 1089.1,598.7 1089.1,571.6 1090.4,571.6 1090.4,559.2 1092.8,559.2 1092.8,558.0 1094.1,558.0 1094.1,553.0 1096.5,553.0 1096.5,532.1 1097.8,532.1 1097.8,519.7 1100.2,519.7 1102.7,519.7 1105.2,519.7 1107.6,519.7 1107.6,529.6 1110.1,529.6 1110.1,540.7 1113.1,540.7 1113.1,541.5 1116.0,541.5 1116.0,542.4 1119.0,542.4 1119.0,543.2 1121.5,543.2 1121.5,549.4 1124.0,549.4 1124.0,574.1 1125.2,574.1 1125.2,581.5 1126.4,581.5 1126.4,603.7 1127.7,603.7 1127.7,648.1 1128.9,648.1 1128.9,650.6 1130.1,650.6 1130.1,618.5 1132.6,618.5 1132.6,598.8 1133.8,598.8 1133.8,549.4 1135.1,549.4 1135.1,529.6 1136.3,529.6 1136.3,519.8 1138.8,519.8 1138.8,514.8 1141.2,514.8 1141.2,514.2 1143.7,514.2 1143.7,513.6 1146.2,513.6 1146.2,514.2 1148.6,514.2 1148.6,514.8 1151.1,514.8 1151.1,522.2 1153.6,522.2 1153.6,527.2 1156.0,527.2 1156.0,522.2 1158.5,522.2 1158.5,519.8 1161.0,519.8 1161.0,514.8 1163.5,514.8 1163.5,512.3 1165.9,512.3 1165.9,511.1 1168.4,511.1 1168.4,509.9 1170.9,509.9 1170.9,508.6 1173.3,508.6 1173.3,507.4 1175.8,507.4 1175.8,506.8 1178.3,506.8 1178.3,506.2 1182.0,506.2 1182.0,507.4 1183.2,507.4 1183.2,509.9 1185.7,509.9 1185.7,518.5 1188.1,518.5 1188.1,521.0 1190.6,521.0 1190.6,522.2 1193.1,522.2 1193.1,524.7" fill="none" stroke="#0d6cb5" stroke-width="3.1" stroke-linejoin="miter"/>
<line x1="380" y1="934" x2="380" y2="1244" stroke="#dcdde0" stroke-width="1.8"/>
<line x1="626" y1="934" x2="626" y2="1244" stroke="#dcdde0" stroke-width="1.8"/>
<line x1="867" y1="934" x2="867" y2="1244" stroke="#dcdde0" stroke-width="1.8"/>
<line x1="1110" y1="934" x2="1110" y2="1244" stroke="#dcdde0" stroke-width="1.8"/>
<line x1="150" y1="1011.5" x2="1193" y2="1011.5" stroke="#d9e6f0" stroke-width="1.8"/>
<line x1="150" y1="1089.0" x2="1193" y2="1089.0" stroke="#d9e6f0" stroke-width="1.8"/>
<line x1="150" y1="1166.5" x2="1193" y2="1166.5" stroke="#d9e6f0" stroke-width="1.8"/>
<line x1="150" y1="934" x2="1193" y2="934" stroke="#1a1a1a" stroke-width="2.2"/>
<line x1="150" y1="1244" x2="1193" y2="1244" stroke="#111" stroke-width="2.4"/>
<line x1="150" y1="933" x2="150" y2="1245" stroke="#0d6cb5" stroke-width="2.2"/>
<line x1="1193" y1="933" x2="1193" y2="1245" stroke="#dc4f1c" stroke-width="2.2"/>
<line x1="380" y1="1244" x2="380" y2="1233" stroke="#111" stroke-width="2.2"/>
<line x1="380" y1="934" x2="380" y2="945" stroke="#111" stroke-width="2.2"/>
<text transform="translate(379,1282.7) scale(1,1.08)" font-family="Liberation Serif" font-weight="bold" font-size="29.3" text-anchor="middle" fill="#111">Oct 2017</text>
<line x1="626" y1="1244" x2="626" y2="1233" stroke="#111" stroke-width="2.2"/>
<line x1="626" y1="934" x2="626" y2="945" stroke="#111" stroke-width="2.2"/>
<text transform="translate(625,1282.7) scale(1,1.08)" font-family="Liberation Serif" font-weight="bold" font-size="29.3" text-anchor="middle" fill="#111">Jan 2018</text>
<line x1="867" y1="1244" x2="867" y2="1233" stroke="#111" stroke-width="2.2"/>
<line x1="867" y1="934" x2="867" y2="945" stroke="#111" stroke-width="2.2"/>
<text transform="translate(866,1282.7) scale(1,1.08)" font-family="Liberation Serif" font-weight="bold" font-size="29.3" text-anchor="middle" fill="#111">Apr 2018</text>
<line x1="1110" y1="1244" x2="1110" y2="1233" stroke="#111" stroke-width="2.2"/>
<line x1="1110" y1="934" x2="1110" y2="945" stroke="#111" stroke-width="2.2"/>
<text transform="translate(1109,1282.7) scale(1,1.08)" font-family="Liberation Serif" font-weight="bold" font-size="29.3" text-anchor="middle" fill="#111">Jul 2018</text>
<line x1="150" y1="934.0" x2="161" y2="934.0" stroke="#0d6cb5" stroke-width="2.2"/>
<text transform="translate(138.5,945.2) scale(1,1.08)" font-family="Liberation Serif" font-weight="bold" font-size="29.3" text-anchor="end" fill="#0d6cb5">40</text>
<line x1="150" y1="1011.5" x2="161" y2="1011.5" stroke="#0d6cb5" stroke-width="2.2"/>
<text transform="translate(138.5,1022.7) scale(1,1.08)" font-family="Liberation Serif" font-weight="bold" font-size="29.3" text-anchor="end" fill="#0d6cb5">30</text>
<line x1="150" y1="1089.0" x2="161" y2="1089.0" stroke="#0d6cb5" stroke-width="2.2"/>
<text transform="translate(138.5,1100.2) scale(1,1.08)" font-family="Liberation Serif" font-weight="bold" font-size="29.3" text-anchor="end" fill="#0d6cb5">20</text>
<line x1="150" y1="1166.5" x2="161" y2="1166.5" stroke="#0d6cb5" stroke-width="2.2"/>
<text transform="translate(138.5,1177.7) scale(1,1.08)" font-family="Liberation Serif" font-weight="bold" font-size="29.3" text-anchor="end" fill="#0d6cb5">10</text>
<line x1="150" y1="1244.0" x2="161" y2="1244.0" stroke="#0d6cb5" stroke-width="2.2"/>
<text transform="translate(138.5,1255.2) scale(1,1.08)" font-family="Liberation Serif" font-weight="bold" font-size="29.3" text-anchor="end" fill="#0d6cb5">0</text>
<line x1="1193" y1="978.2" x2="1182" y2="978.2" stroke="#dc4f1c" stroke-width="2.2"/>
<text transform="translate(1204,989.4) scale(1,1.08)" font-family="Liberation Serif" font-weight="bold" font-size="29.3" text-anchor="start" fill="#dc4f1c">60</text>
<line x1="1193" y1="1066.8" x2="1182" y2="1066.8" stroke="#dc4f1c" stroke-width="2.2"/>
<text transform="translate(1204,1078.0) scale(1,1.08)" font-family="Liberation Serif" font-weight="bold" font-size="29.3" text-anchor="start" fill="#dc4f1c">40</text>
<line x1="1193" y1="1155.4" x2="1182" y2="1155.4" stroke="#dc4f1c" stroke-width="2.2"/>
<text transform="translate(1204,1166.6) scale(1,1.08)" font-family="Liberation Serif" font-weight="bold" font-size="29.3" text-anchor="start" fill="#dc4f1c">20</text>
<line x1="1193" y1="1244.0" x2="1182" y2="1244.0" stroke="#dc4f1c" stroke-width="2.2"/>
<text transform="translate(1204,1255.2) scale(1,1.08)" font-family="Liberation Serif" font-weight="bold" font-size="29.3" text-anchor="start" fill="#dc4f1c">0</text>
<polyline points="225.1,1028.7 227.6,1028.7 228.8,1028.7 228.8,969.5 231.3,969.5 231.3,1026.2 232.5,1026.2 232.5,994.2 233.8,994.2 233.8,999.1 235.0,999.1 235.0,1028.7 236.2,1028.7 236.2,1016.4 239.9,1016.4 241.2,1016.4 241.2,1026.2 242.4,1026.2 242.4,1001.6 244.9,1001.6 244.9,979.3 247.3,979.3 247.3,971.9 248.6,971.9 248.6,991.7 249.8,991.7 249.8,962.1 251.0,962.1 251.0,1009.0 252.3,1009.0 252.3,1041.0 253.5,1041.0 253.5,1031.2 254.7,1031.2 254.7,1026.2 256.0,1026.2 256.0,1023.8 258.4,1023.8 258.4,1011.4 259.7,1011.4 259.7,1036.1 260.9,1036.1 260.9,1016.4 263.4,1016.4 263.4,1028.7 265.8,1028.7 265.8,1053.4 267.1,1053.4 267.1,1058.3 270.8,1058.3 274.5,1058.3 275.7,1058.3 275.7,1043.5 278.2,1043.5 278.2,1048.4 280.6,1048.4 280.6,1043.5 283.1,1043.5 285.6,1043.5 288.0,1043.5 288.0,1063.2 289.3,1063.2 289.3,1058.3 291.7,1058.3 291.7,1053.4 294.2,1053.4 294.2,1033.6 295.4,1033.6 295.4,1004.0 296.7,1004.0 296.7,1033.6 299.1,1033.6 299.1,1048.4 301.6,1048.4 301.6,1058.3 304.1,1058.3 304.1,1063.2 306.5,1063.2 306.5,1043.5 307.8,1043.5 307.8,1026.2 310.2,1026.2 312.7,1026.2 315.2,1026.2 316.4,1026.2 316.4,957.1 318.9,957.1 318.9,946.0 321.3,946.0 322.6,946.0 322.6,965.8 323.8,965.8 323.8,967.0 325.0,967.0 325.0,1043.5 327.5,1043.5 330.0,1043.5 332.3,1043.5 332.3,1016.4 333.6,1016.4 333.6,1001.6 334.8,1001.6 334.8,1018.8 337.3,1018.8 337.3,1016.4 339.7,1016.4 339.7,1013.9 342.2,1013.9 342.2,999.1 343.4,999.1 343.4,1042.3 345.9,1042.3 348.4,1042.3 349.6,1042.3 349.6,979.3 350.8,979.3 350.8,957.1 353.9,957.1 353.9,956.5 357.0,956.5 357.0,955.9 359.5,955.9 359.5,955.5 361.9,955.5 361.9,955.1 364.4,955.1 364.4,954.7 366.9,954.7 366.9,955.9 369.3,955.9 369.3,957.1 371.8,957.1 371.8,956.3 374.3,956.3 374.3,955.5 376.7,955.5 376.7,954.7 378.0,954.7 378.0,974.4 380.4,974.4 380.4,981.8 382.9,981.8 382.9,1016.4 384.2,1016.4 384.2,1018.8 387.9,1018.8 387.9,1017.6 390.3,1017.6 390.3,1009.0 392.8,1009.0 392.8,1006.5 395.3,1006.5 395.3,999.1 397.7,999.1 397.7,957.1 400.2,957.1 401.4,957.1 401.4,1013.9 405.1,1013.9 408.8,1013.9 410.1,1013.9 410.1,959.6 412.5,959.6 413.8,959.6 413.8,989.2 415.0,989.2 415.0,991.7 417.5,991.7 417.5,986.7 421.2,986.7 424.9,986.7 426.1,986.7 426.1,974.4 428.6,974.4 428.6,960.8 431.0,960.8 431.0,964.5 433.5,964.5 433.5,974.4 436.0,974.4 436.0,973.2 438.4,973.2 438.4,975.0 440.9,975.0 440.9,976.9 442.1,976.9 442.1,989.2 443.4,989.2 443.4,981.8 446.4,981.8 449.5,981.8 452.0,981.8 452.0,975.6 454.5,975.6 454.5,969.5 456.9,969.5 456.9,967.8 459.4,967.8 459.4,966.2 461.9,966.2 461.9,964.5 465.6,964.5 466.8,964.5 466.8,969.5 469.3,969.5 469.3,976.9 470.5,976.9 470.5,969.5 473.0,969.5 473.0,964.5 475.4,964.5 475.4,963.3 477.9,963.3 477.9,962.1 480.4,962.1 482.8,962.1 485.3,962.1 487.8,962.1 490.2,962.1 490.2,971.9 492.7,971.9 492.7,962.1 495.2,962.1 495.2,955.9 497.6,955.9 500.1,955.9 502.6,955.9 502.6,964.5 505.0,964.5 507.5,964.5 510.0,964.5 512.3,964.5 512.3,963.3 514.8,963.3 514.8,967.0 517.3,967.0 517.3,974.4 519.7,974.4 519.7,975.6 523.4,975.6 523.4,976.9 525.9,976.9 525.9,989.2 527.1,989.2 527.1,975.6 530.0,975.6 532.9,975.6 535.8,975.6 539.5,975.6 539.5,979.3 541.9,979.3 541.9,984.3 543.2,984.3 543.2,979.3 545.6,979.3 545.6,978.1 548.1,978.1 548.1,971.9 549.3,971.9 549.3,981.8 551.8,981.8 551.8,973.2 554.3,973.2 554.3,970.7 558.0,970.7 558.0,971.9 561.1,971.9 564.2,971.9 565.4,971.9 565.4,976.9 567.9,976.9 570.3,976.9 572.8,976.9 575.3,976.9 575.3,973.2 579.0,973.2 579.0,968.2 581.8,968.2 584.7,968.2 587.6,968.2 590.1,968.2 590.1,971.9 592.5,971.9 592.5,973.2 595.0,973.2 595.0,976.9 597.5,976.9 597.5,983.0 599.9,983.0 599.9,985.5 602.4,985.5 602.4,988.0 605.5,988.0 608.6,988.0 611.6,988.0 614.7,988.0 616.0,988.0 616.0,976.9 618.4,976.9 618.4,975.6 620.9,975.6 623.4,975.6 625.8,975.6 628.3,975.6 629.5,975.6 629.5,964.5 632.4,964.5 632.4,964.1 635.3,964.1 635.3,963.7 638.2,963.7 638.2,963.3 641.9,963.3 641.9,964.5 645.6,964.5 645.6,965.8 648.0,965.8 648.0,969.5 650.5,969.5 650.5,970.1 653.0,970.1 653.0,970.7 655.4,970.7 655.4,973.2 657.9,973.2 657.9,971.9 659.1,971.9 659.1,963.3 662.0,963.3 664.9,963.3 667.8,963.3 670.2,963.3 670.2,958.4 672.7,958.4 675.2,958.4 677.6,958.4 680.1,958.4 682.6,958.4 685.0,958.4 685.0,967.0 687.5,967.0 687.5,968.2 690.0,968.2 690.0,969.5 692.4,969.5 692.4,974.4 694.8,974.4 694.8,979.3 698.5,979.3 698.5,974.4 701.6,974.4 701.6,975.0 704.7,975.0 704.7,975.6 707.8,975.6 707.8,976.9 710.8,976.9 710.8,978.1 713.7,978.1 713.7,978.5 716.6,978.5 716.6,978.9 719.5,978.9 719.5,979.3 721.9,979.3 721.9,978.7 724.4,978.7 724.4,978.1 726.9,978.1 726.9,981.8 729.3,981.8 729.3,986.7 730.6,986.7 730.6,978.1 733.0,978.1 733.0,976.9 735.5,976.9 735.5,969.5 738.0,969.5 740.4,969.5 742.9,969.5 745.4,969.5 746.6,969.5 746.6,981.8 749.1,981.8 749.1,973.2 751.6,973.2 751.6,964.5 754.0,964.5 754.0,974.4 757.1,974.4 760.2,974.4 762.7,974.4 762.7,979.3 765.1,979.3 765.1,991.7 767.6,991.7 770.1,991.7 772.5,991.7 772.5,988.0 772.5,1015.1 776.2,1015.1 776.2,1012.7 779.9,1012.7 781.2,1012.7 781.2,1001.6 784.9,1001.6 784.9,999.1 786.1,999.1 786.1,992.9 788.6,992.9 788.6,986.7 791.0,986.7 793.5,986.7 794.7,986.7 794.7,996.6 797.2,996.6 799.7,996.6 802.1,996.6 803.4,996.6 803.4,986.7 805.8,986.7 805.8,983.0 808.3,983.0 808.3,979.3 810.8,979.3 813.2,979.3 815.7,979.3 815.7,975.6 819.4,975.6 819.4,973.2 822.5,973.2 825.6,973.2 828.0,973.2 828.0,976.9 830.5,976.9 830.5,986.7 831.7,986.7 831.7,988.0 834.2,988.0 834.2,987.6 836.7,987.6 836.7,987.2 839.1,987.2 839.1,986.7 842.8,986.7 842.8,981.8 844.1,981.8 844.1,969.5 847.8,969.5 850.2,969.5 850.2,975.6 852.7,975.6 852.7,971.9 855.2,971.9 855.2,970.7 857.6,970.7 857.6,969.5 860.1,969.5 860.1,970.1 862.6,970.1 862.6,970.7 865.0,970.7 865.0,967.0 868.7,967.0 870.0,967.0 870.0,981.8 871.1,981.8 871.1,968.2 872.3,968.2 872.3,981.8 874.8,981.8 874.8,979.3 877.3,979.3 877.3,984.3 879.7,984.3 879.7,1004.0 882.2,1004.0 882.2,996.6 884.7,996.6 884.7,1001.6 885.9,1001.6 885.9,989.2 887.1,989.2 887.1,981.8 889.6,981.8 889.6,979.3 892.1,979.3 892.1,976.9 894.5,976.9 894.5,976.3 897.0,976.3 897.0,975.6 899.5,975.6 899.5,973.8 901.9,973.8 901.9,971.9 904.4,971.9 906.9,971.9 909.3,971.9 909.3,974.4 911.8,974.4 911.8,978.1 914.3,978.1 914.3,976.9 916.7,976.9 919.2,976.9 919.2,973.2 921.7,973.2 921.7,989.2 924.2,989.2 926.6,989.2 929.1,989.2 931.6,989.2 931.6,979.3 932.8,979.3 932.8,971.9 936.5,971.9 939.0,971.9 939.0,979.3 940.2,979.3 940.2,986.7 942.7,986.7 942.7,989.2 945.1,989.2 945.1,994.2 947.6,994.2 950.1,994.2 950.1,996.6 952.5,996.6 952.5,997.9 955.0,997.9 955.0,1000.3 957.5,1000.3 957.5,1001.6 961.2,1001.6 963.6,1001.6 963.6,978.1 966.1,978.1 966.1,979.3 968.6,979.3 968.6,986.7 971.0,986.7 971.0,991.7 973.5,991.7 973.5,1011.4 974.7,1011.4 974.7,1018.8 976.0,1018.8 976.0,991.7 978.4,991.7 980.9,991.7 980.9,989.2 983.4,989.2 983.4,967.0 985.8,967.0 985.8,991.7 988.3,991.7 988.3,994.2 990.8,994.2 990.8,984.3 993.2,984.3 993.2,979.3 994.5,979.3 994.5,989.2 996.9,989.2 996.9,971.9 998.2,971.9 998.2,981.8 999.4,981.8 999.4,1004.0 1001.9,1004.0 1001.9,1013.9 1005.6,1013.9 1005.6,1009.0 1008.0,1009.0 1008.0,1013.9 1009.3,1013.9 1009.3,1026.2 1010.5,1026.2 1010.5,1016.4 1013.0,1016.4 1015.4,1016.4 1015.4,1021.3 1017.9,1021.3 1017.9,994.2 1019.1,994.2 1019.1,1023.8 1022.8,1023.8 1025.3,1023.8 1025.3,1004.0 1027.8,1004.0 1027.8,1028.7 1030.2,1028.7 1030.2,999.1 1032.7,999.1 1032.7,1028.7 1033.9,1028.7 1033.9,989.2 1035.2,989.2 1035.2,1016.4 1037.6,1016.4 1037.6,1028.7 1040.1,1028.7 1042.6,1028.7 1043.8,1028.7 1043.8,1018.8 1045.0,1018.8 1045.0,967.0 1047.5,967.0 1047.5,969.5 1050.0,969.5 1050.0,984.3 1052.2,984.3 1052.2,979.4 1053.5,979.4 1053.5,1016.5 1054.7,1016.5 1054.7,979.4 1057.2,979.4 1057.2,1004.1 1059.7,1004.1 1063.4,1004.1 1063.4,1001.7 1064.6,1001.7 1064.6,991.8 1065.8,991.8 1065.8,989.3 1068.3,989.3 1068.3,1009.1 1072.0,1009.1 1074.5,1009.1 1074.5,1014.0 1075.7,1014.0 1075.7,991.8 1078.2,991.8 1078.2,969.5 1079.4,969.5 1079.4,984.4 1081.9,984.4 1081.9,979.4 1084.4,979.4 1084.4,969.5 1085.6,969.5 1085.6,959.7 1088.1,959.7 1089.3,959.7 1089.3,1011.5 1090.5,1011.5 1090.5,1038.7 1093.0,1038.7 1093.0,1014.0 1094.2,1014.0 1094.2,1019.0 1095.5,1019.0 1095.5,1038.7 1096.7,1038.7 1096.7,1026.4 1098.0,1026.4 1098.0,1058.5 1100.4,1058.5 1100.4,1061.0 1104.1,1061.0 1105.4,1061.0 1105.4,1041.2 1106.6,1041.2 1106.6,1021.4 1109.1,1021.4 1109.1,1028.8 1110.3,1028.8 1110.3,1038.7 1114.0,1038.7 1115.2,1038.7 1115.2,1028.8 1116.5,1028.8 1116.5,1006.6 1119.0,1006.6 1119.0,1009.1 1120.2,1009.1 1120.2,1001.7 1122.7,1001.7 1122.7,954.7 1125.1,954.7 1125.1,949.8 1127.6,949.8 1128.8,949.8 1128.8,986.8 1131.3,986.8 1131.3,1004.1 1132.5,1004.1 1132.5,1028.8 1135.0,1028.8 1135.0,1073.3 1136.3,1073.3 1136.3,1023.9 1138.7,1023.9 1138.7,1036.3 1140.0,1036.3 1140.0,1046.1 1143.7,1046.1 1144.9,1046.1 1144.9,1038.7 1146.1,1038.7 1146.1,1023.9 1148.6,1023.9 1148.6,1058.5 1152.3,1058.5 1153.5,1058.5 1153.5,1046.1 1156.0,1046.1 1156.0,1036.3 1157.3,1036.3 1157.3,1056.0 1159.7,1056.0 1159.7,1036.3 1162.2,1036.3 1162.2,1033.8 1164.7,1033.8 1164.7,1048.6 1167.1,1048.6 1167.1,1073.3 1170.8,1073.3 1172.1,1073.3 1172.1,1088.1 1175.2,1088.1 1178.3,1088.1 1180.7,1088.1 1180.7,1078.3 1182.0,1078.3 1182.0,1053.5 1183.2,1053.5 1183.2,1036.3 1184.4,1036.3 1184.4,1004.1 1185.7,1004.1 1185.7,1019.0 1188.1,1019.0 1189.4,1019.0 1189.4,996.7 1190.6,996.7 1190.6,1004.1 1191.8,1004.1 1191.8,1048.6" fill="none" stroke="#dc4f1c" stroke-width="3.1" stroke-linejoin="miter"/><polyline points="225.1,1113.8 227.6,1113.8 227.6,1115.0 228.8,1115.0 228.8,1221.1 230.1,1221.1 230.1,1219.9 231.3,1219.9 231.3,1120.0 232.5,1120.0 232.5,1171.8 233.8,1171.8 233.8,1120.0 235.0,1120.0 235.0,1132.3 238.7,1132.3 241.2,1132.3 241.2,1121.2 242.4,1121.2 242.4,1164.4 243.6,1164.4 243.6,1165.6 246.1,1165.6 246.1,1201.4 248.6,1201.4 248.6,1226.1 249.8,1226.1 249.8,1232.2 251.0,1232.2 251.0,1134.8 252.3,1134.8 252.3,1132.3 253.5,1132.3 253.5,1085.4 254.7,1085.4 254.7,1087.9 256.0,1087.9 256.0,1110.1 258.4,1110.1 259.7,1110.1 259.7,1147.1 260.9,1147.1 260.9,1124.9 262.1,1124.9 262.1,1128.6 263.4,1128.6 263.4,1097.8 264.6,1097.8 264.6,1080.5 267.1,1080.5 267.1,1041.0 268.3,1041.0 268.3,1038.6 271.4,1038.6 274.5,1038.6 275.7,1038.6 275.7,1085.4 276.9,1085.4 276.9,1031.2 279.4,1031.2 279.4,1028.7 280.6,1028.7 280.6,1065.7 283.1,1065.7 283.1,1066.9 285.6,1066.9 288.0,1066.9 289.3,1066.9 289.3,1009.0 293.0,1009.0 294.2,1009.0 294.2,1060.8 295.4,1060.8 295.4,1154.5 296.7,1154.5 296.7,1078.0 297.9,1078.0 297.9,1087.9 299.1,1087.9 299.1,1041.0 301.6,1041.0 301.6,1027.5 305.3,1027.5 305.3,1028.7 307.8,1028.7 307.8,1102.7 310.2,1102.7 312.7,1102.7 315.2,1102.7 316.4,1102.7 316.4,1231.0 317.6,1231.0 317.6,1235.9 318.9,1235.9 318.9,1244.0 321.3,1244.0 322.6,1244.0 322.6,1216.2 325.0,1216.2 325.0,1213.7 326.3,1213.7 326.3,1078.0 330.0,1078.0 331.1,1078.0 331.1,1127.4 332.3,1127.4 332.3,1112.6 333.6,1112.6 333.6,1149.6 334.8,1149.6 334.8,1127.4 338.5,1127.4 341.0,1127.4 341.0,1164.4 342.2,1164.4 342.2,1089.1 345.3,1089.1 348.4,1089.1 349.6,1089.1 349.6,1201.4 350.8,1201.4 350.8,1244.0 353.3,1244.0 355.8,1244.0 358.2,1244.0 360.7,1244.0 363.2,1244.0 365.6,1244.0 366.9,1244.0 366.9,1229.8 369.3,1229.8 369.3,1235.9 372.4,1235.9 375.5,1235.9 376.7,1235.9 376.7,1221.1 379.2,1221.1 379.2,1201.4 380.4,1201.4 380.4,1171.8 382.9,1171.8 382.9,1124.9 385.4,1124.9 385.4,1127.4 389.1,1127.4 389.1,1129.9 390.3,1129.9 390.3,1137.3 392.8,1137.3 392.8,1152.1 395.3,1152.1 395.3,1154.5 396.5,1154.5 396.5,1166.9 397.7,1166.9 397.7,1244.0 399.0,1244.0 399.0,1169.3 400.2,1169.3 400.2,1142.2 402.7,1142.2 405.1,1142.2 407.6,1142.2 408.8,1142.2 408.8,1189.1 411.3,1189.1 411.3,1244.0 412.5,1244.0 412.5,1189.1 415.0,1189.1 415.0,1187.8 417.5,1187.8 418.7,1187.8 418.7,1194.0 421.6,1194.0 424.4,1194.0 427.3,1194.0 428.6,1194.0 428.6,1231.0 432.3,1231.0 432.3,1244.0 433.5,1244.0 433.5,1232.2 436.0,1232.2 436.0,1244.0 439.0,1244.0 442.1,1244.0 443.4,1244.0 443.4,1218.7 446.4,1218.7 449.5,1218.7 452.0,1218.7 452.0,1216.2 453.2,1216.2 453.2,1244.0 455.7,1244.0 458.2,1244.0 459.4,1244.0 459.4,1237.2 460.6,1237.2 460.6,1244.0 463.1,1244.0 465.6,1244.0 468.0,1244.0 469.3,1244.0 469.3,1226.1 470.5,1226.1 470.5,1244.0 473.1,1244.0 475.8,1244.0 478.4,1244.0 481.1,1244.0 483.7,1244.0 486.4,1244.0 489.0,1244.0 490.2,1244.0 490.2,1237.2 491.5,1237.2 491.5,1244.0 494.1,1244.0 496.8,1244.0 499.4,1244.0 502.1,1244.0 504.7,1244.0 507.3,1244.0 510.0,1244.0 512.6,1244.0 515.3,1244.0 517.9,1244.0 520.6,1244.0 523.3,1244.0 525.9,1244.0 527.1,1244.0 527.1,1237.2 528.4,1237.2 528.4,1244.0 531.2,1244.0 534.0,1244.0 536.8,1244.0 539.7,1244.0 542.5,1244.0 545.3,1244.0 548.1,1244.0 549.3,1244.0 549.3,1233.5 553.0,1233.5 554.3,1233.5 554.3,1227.3 556.7,1227.3 559.2,1227.3 561.7,1227.3 561.7,1229.8 564.2,1229.8 566.6,1229.8 569.1,1229.8 569.1,1229.2 571.6,1229.2 571.6,1228.5 572.8,1228.5 572.8,1244.0 574.0,1244.0 574.0,1233.5 576.5,1233.5 579.0,1233.5 580.2,1233.5 580.2,1244.0 582.7,1244.0 583.9,1244.0 583.9,1237.2 587.6,1237.2 588.8,1237.2 588.8,1244.0 592.5,1244.0 593.8,1244.0 593.8,1235.9 597.5,1235.9 598.7,1235.9 598.7,1244.0 601.2,1244.0 602.4,1244.0 602.4,1226.1 606.1,1226.1 606.1,1227.3 608.6,1227.3 611.0,1227.3 613.5,1227.3 614.7,1227.3 614.7,1244.0 617.2,1244.0 618.4,1244.0 618.4,1233.5 620.9,1233.5 623.4,1233.5 625.8,1233.5 627.1,1233.5 627.1,1232.2 630.8,1232.2 632.0,1232.2 632.0,1244.0 634.7,1244.0 637.3,1244.0 640.0,1244.0 642.7,1244.0 645.4,1244.0 648.0,1244.0 649.3,1244.0 649.3,1239.6 650.5,1239.6 650.5,1244.0 653.1,1244.0 655.8,1244.0 658.4,1244.0 661.0,1244.0 663.7,1244.0 666.3,1244.0 668.9,1244.0 671.6,1244.0 674.2,1244.0 676.8,1244.0 679.5,1244.0 682.1,1244.0 684.7,1244.0 687.4,1244.0 690.0,1244.0 693.6,1244.0 694.8,1244.0 694.8,1237.2 696.0,1237.2 696.0,1244.0 698.6,1244.0 701.2,1244.0 703.8,1244.0 706.4,1244.0 709.0,1244.0 711.6,1244.0 714.2,1244.0 716.8,1244.0 719.4,1244.0 721.9,1244.0 724.4,1244.0 724.4,1233.5 726.9,1233.5 726.9,1218.7 729.3,1218.7 729.3,1205.1 730.6,1205.1 730.6,1217.4 731.8,1217.4 731.8,1205.1 733.0,1205.1 733.0,1221.1 736.7,1221.1 736.7,1222.4 739.6,1222.4 742.5,1222.4 745.4,1222.4 746.6,1222.4 746.6,1206.3 749.1,1206.3 750.3,1206.3 750.3,1223.6 752.8,1223.6 752.8,1226.1 754.0,1226.1 754.0,1235.9 755.3,1235.9 755.3,1244.0 757.7,1244.0 760.2,1244.0 762.7,1244.0 762.7,1229.8 765.1,1229.8 766.4,1229.8 766.4,1244.0 767.6,1244.0 767.6,1237.2 770.1,1237.2 772.5,1237.2 773.8,1237.2 773.8,1244.0 776.2,1244.0 778.7,1244.0 781.2,1244.0 783.6,1244.0 786.1,1244.0 788.6,1244.0 788.6,1233.5 791.6,1233.5 794.7,1233.5 796.0,1233.5 796.0,1216.2 798.4,1216.2 800.9,1216.2 803.4,1216.2 804.6,1216.2 804.6,1233.5 807.1,1233.5 807.1,1235.3 809.5,1235.3 809.5,1237.2 810.8,1237.2 810.8,1244.0 813.6,1244.0 816.5,1244.0 819.4,1244.0 820.6,1244.0 820.6,1234.7 823.1,1234.7 825.6,1234.7 828.0,1234.7 830.5,1234.7 830.5,1205.1 834.2,1205.1 834.2,1207.6 836.7,1207.6 836.7,1208.0 839.1,1208.0 839.1,1208.4 841.6,1208.4 841.6,1208.8 842.8,1208.8 842.8,1226.1 845.3,1226.1 846.5,1226.1 846.5,1238.4 849.6,1238.4 852.7,1238.4 855.2,1238.4 855.2,1226.1 857.6,1226.1 857.6,1224.8 860.1,1224.8 860.1,1223.6 862.6,1223.6 862.6,1226.1 863.8,1226.1 863.8,1231.0 866.9,1231.0 870.0,1231.0 871.1,1231.0 871.1,1219.9 873.6,1219.9 873.6,1218.7 876.0,1218.7 876.0,1217.4 878.5,1217.4 878.5,1219.9 879.7,1219.9 879.7,1244.0 882.2,1244.0 884.7,1244.0 885.9,1244.0 885.9,1224.8 887.1,1224.8 887.1,1244.0 889.6,1244.0 890.8,1244.0 890.8,1239.6 892.1,1239.6 892.1,1244.0 894.7,1244.0 897.4,1244.0 900.1,1244.0 902.8,1244.0 905.4,1244.0 908.1,1244.0 909.3,1244.0 909.3,1237.2 911.8,1237.2 914.3,1237.2 916.7,1237.2 919.2,1237.2 919.2,1231.0 921.7,1231.0 921.7,1216.2 922.9,1216.2 922.9,1196.5 925.4,1196.5 927.9,1196.5 930.3,1196.5 932.8,1196.5 934.0,1196.5 934.0,1206.3 935.3,1206.3 935.3,1221.1 937.7,1221.1 937.7,1238.4 939.0,1238.4 939.0,1244.0 940.2,1244.0 940.2,1226.1 942.7,1226.1 942.7,1221.1 945.1,1221.1 945.1,1203.9 947.6,1203.9 947.6,1187.8 950.1,1187.8 950.1,1187.2 952.5,1187.2 952.5,1186.6 953.8,1186.6 953.8,1181.7 956.2,1181.7 956.2,1174.3 957.5,1174.3 957.5,1201.4 958.7,1201.4 958.7,1186.6 961.8,1186.6 964.9,1186.6 966.1,1186.6 966.1,1244.0 968.6,1244.0 968.6,1233.5 971.0,1233.5 971.0,1201.4 972.3,1201.4 972.3,1147.1 974.7,1147.1 974.7,1129.9 976.0,1129.9 976.0,1186.6 977.2,1186.6 977.2,1194.0 978.4,1194.0 978.4,1181.7 982.1,1181.7 984.6,1181.7 984.6,1201.4 985.8,1201.4 985.8,1208.8 987.1,1208.8 987.1,1223.6 988.3,1223.6 988.3,1208.8 990.8,1208.8 990.8,1213.7 994.5,1213.7 994.5,1221.1 995.7,1221.1 995.7,1208.8 996.9,1208.8 996.9,1191.5 998.2,1191.5 998.2,1147.1 999.4,1147.1 999.4,1142.2 1000.6,1142.2 1000.6,1137.3 1001.9,1137.3 1001.9,1166.9 1003.1,1166.9 1003.1,1137.3 1005.6,1137.3 1005.6,1142.2 1008.0,1142.2 1009.3,1142.2 1009.3,1112.6 1011.7,1112.6 1011.7,1127.4 1014.2,1127.4 1015.4,1127.4 1015.4,1149.6 1017.9,1149.6 1017.9,1122.5 1019.1,1122.5 1019.1,1169.3 1020.4,1169.3 1020.4,1142.2 1024.1,1142.2 1026.5,1142.2 1026.5,1164.4 1027.8,1164.4 1027.8,1115.0 1030.2,1115.0 1031.5,1115.0 1031.5,1189.1 1032.7,1189.1 1033.9,1189.1 1033.9,1117.5 1035.2,1117.5 1035.2,1120.0 1037.6,1120.0 1037.6,1122.5 1041.3,1122.5 1043.8,1122.5 1045.0,1122.5 1045.0,1235.9 1047.5,1235.9 1047.5,1244.0 1050.0,1244.0 1050.0,1213.7 1053.5,1213.7 1053.5,1244.0 1054.7,1244.0 1054.7,1214.2 1055.9,1214.2 1055.9,1159.8 1057.2,1159.8 1057.2,1187.0 1058.4,1187.0 1058.4,1174.6 1060.9,1174.6 1063.4,1174.6 1064.6,1174.6 1064.6,1188.2 1067.1,1188.2 1068.3,1188.2 1068.3,1152.4 1072.0,1152.4 1074.5,1152.4 1074.5,1164.7 1075.7,1164.7 1075.7,1140.0 1076.9,1140.0 1076.9,1142.5 1078.2,1142.5 1078.2,1191.9 1079.4,1191.9 1079.4,1194.4 1080.7,1194.4 1080.7,1226.5 1081.9,1226.5 1081.9,1206.7 1083.1,1206.7 1083.1,1211.7 1084.4,1211.7 1084.4,1226.5 1085.6,1226.5 1085.6,1244.0 1088.1,1244.0 1089.3,1244.0 1089.3,1127.7 1090.5,1127.7 1090.5,1100.5 1091.8,1100.5 1091.8,1080.7 1093.0,1080.7 1093.0,1103.0 1094.2,1103.0 1094.2,1127.7 1095.5,1127.7 1095.5,1083.2 1096.7,1083.2 1096.7,1078.3 1098.0,1078.3 1098.0,1063.4 1099.2,1063.4 1099.2,1021.4 1101.7,1021.4 1104.1,1021.4 1106.6,1021.4 1107.8,1021.4 1107.8,1063.4 1109.1,1063.4 1109.1,1103.0 1110.3,1103.0 1110.3,1078.3 1112.8,1078.3 1116.5,1078.3 1117.7,1078.3 1117.7,1105.4 1119.0,1105.4 1119.0,1145.0 1120.2,1145.0 1120.2,1105.4 1122.7,1105.4 1123.9,1105.4 1123.9,1201.8 1125.1,1201.8 1125.1,1244.0 1128.8,1244.0 1130.1,1244.0 1130.1,1201.8 1131.3,1201.8 1131.3,1159.8 1132.5,1159.8 1132.5,1147.4 1133.8,1147.4 1133.8,1073.3 1135.0,1073.3 1135.0,994.2 1136.3,994.2 1136.3,999.2 1137.5,999.2 1137.5,1036.3 1138.7,1036.3 1138.7,1095.6 1140.0,1095.6 1140.0,1058.5 1143.7,1058.5 1143.7,1056.0 1146.1,1056.0 1148.6,1056.0 1148.6,1075.8 1149.8,1075.8 1149.8,1021.4 1153.5,1021.4 1153.5,1019.0 1156.0,1019.0 1156.0,1021.4 1157.3,1021.4 1157.3,1080.7 1158.5,1080.7 1158.5,1088.1 1159.7,1088.1 1159.7,1038.7 1162.2,1038.7 1162.2,1090.6 1164.7,1090.6 1164.7,1053.5 1165.9,1053.5 1165.9,989.3 1169.6,989.3 1170.8,989.3 1172.1,989.3 1172.1,959.7 1174.6,959.7 1177.0,959.7 1179.5,959.7 1180.7,959.7 1180.7,986.8 1182.0,986.8 1183.2,986.8 1183.2,1004.1 1184.4,1004.1 1184.4,1028.8 1185.2,1028.8 1185.2,1103.0 1186.9,1103.0 1186.9,1117.8 1190.6,1117.8 1191.8,1117.8 1191.8,1152.4" fill="none" stroke="#0d6cb5" stroke-width="3.1" stroke-linejoin="miter"/><path d="M146.6 1003.9L155.8 1013.1M155.8 1003.9L146.6 1013.1 M174.5 1039.6L183.7 1048.8M183.7 1039.6L174.5 1048.8 M287.1 1066.0L296.3 1075.2M296.3 1066.0L287.1 1075.2 M367.2 956.2L376.4 965.4M376.4 956.2L367.2 965.4 M453.6 958.7L462.8 967.9M462.8 958.7L453.6 967.9 M688.7 968.2L697.9 977.4M697.9 968.2L688.7 977.4 M726.0 980.9L735.2 990.1M735.2 980.9L726.0 990.1 M808.6 973.5L817.8 982.7M817.8 973.5L808.6 982.7 M966.4 987.1L975.6 996.3M975.6 987.1L966.4 996.3 M1156.4 1024.2L1165.6 1033.4M1165.6 1024.2L1156.4 1033.4" stroke="#050505" stroke-width="4" fill="none" clip-path="url(#clipC)"/>
<text x="-0.8" y="24" font-family="Liberation Sans" font-weight="bold" font-size="30" fill="#0a0a0a">A</text>
<text x="0.2" y="495.4" font-family="Liberation Sans" font-weight="bold" font-size="29.3" fill="#0a0a0a">B</text>
<text x="1.6" y="911.8" font-family="Liberation Sans" font-weight="bold" font-size="31" fill="#0a0a0a">C</text>
<text transform="translate(78.6,436.5) rotate(-90)" font-family="Liberation Serif" font-weight="bold" font-size="32.1" text-anchor="start" fill="#111">Northward windstress (Nm<tspan dy="-14.8" font-size="26.5">-2</tspan><tspan dy="14.8">)</tspan></text>
<text transform="translate(66.8,869.5) rotate(-90)" font-family="Liberation Serif" font-weight="bold" font-size="32.2" text-anchor="start" fill="#0d6cb5">Coastal ocean density (kg m<tspan dy="-14.8" font-size="26.5">-3</tspan><tspan dy="14.8">)</tspan></text>
<text transform="translate(1301.5,783) rotate(-90)" font-family="Liberation Serif" font-weight="bold" font-size="32.5" text-anchor="start" fill="#dc4f1c">AOU ( <tspan font-style="italic">μ</tspan>mol kg<tspan dy="-14.8" font-size="26.5">-1</tspan><tspan dy="14.8">)</tspan></text>
<text transform="translate(96.2,1245) rotate(-90)" font-family="Liberation Serif" font-weight="bold" font-size="32.2" text-anchor="start" fill="#0d6cb5">Ventilation age (years)</text>
<text transform="translate(1277.5,1254.5) rotate(-90)" font-family="Liberation Serif" font-weight="bold" font-size="32.8" text-anchor="start" fill="#dc4f1c">Ocean C<tspan dy="9" font-size="26">ant</tspan><tspan dy="-9"> ( </tspan><tspan font-style="italic">μ</tspan>mol kg<tspan dy="-14.8" font-size="26.5">-1</tspan><tspan dy="14.8">)</tspan></text>
</svg></body></html>
